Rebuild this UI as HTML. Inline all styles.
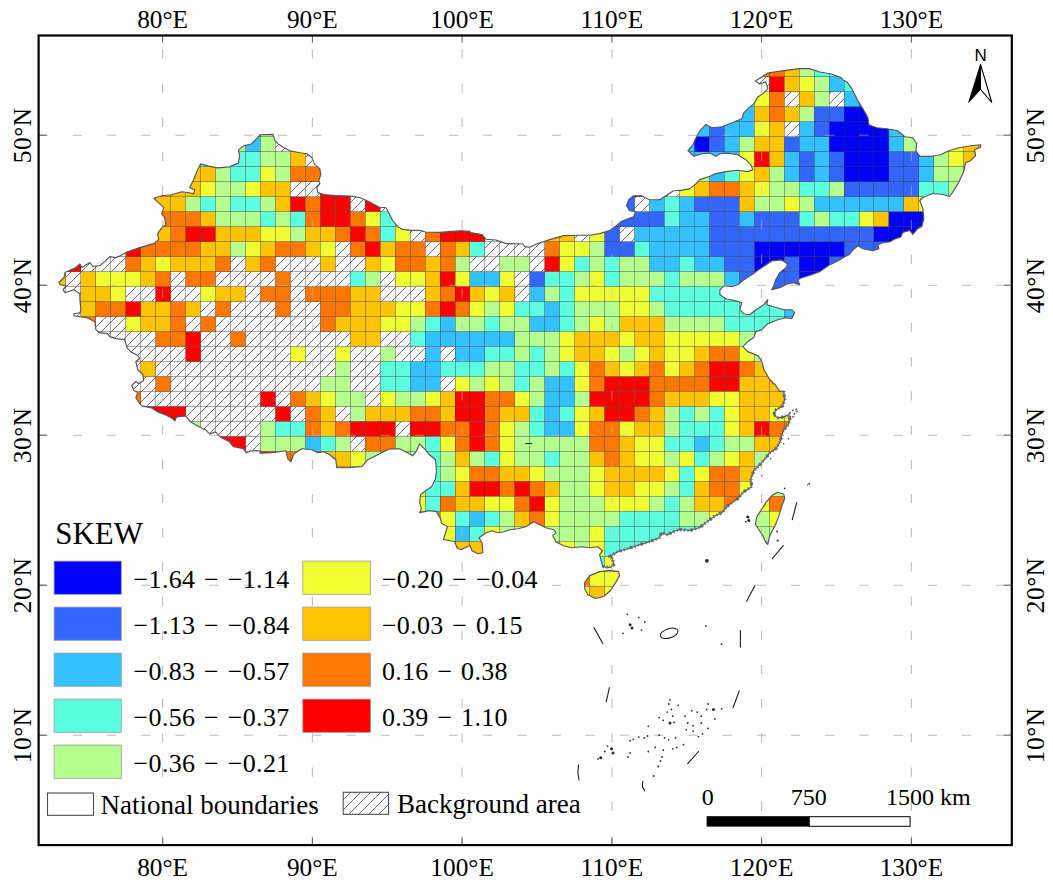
<!DOCTYPE html>
<html><head><meta charset="utf-8"><title>SKEW map</title>
<style>html,body{margin:0;padding:0;background:#fff}svg{display:block}text{font-family:'Liberation Serif','Times New Roman',serif;fill:#000}</style></head><body>
<svg width="1053" height="883" viewBox="0 0 1053 883">
<defs>
<pattern id="hp" patternUnits="userSpaceOnUse" width="10" height="10" x="3" y="0"><path d="M-1,11 L11,-1 M-1,1 L1,-1 M9,11 L11,9" stroke="#444" stroke-width="0.8" fill="none"/></pattern>
<clipPath id="cn"><path d="M59.0,282.5 L64.0,277.5 L65.0,272.5 L75.9,267.5 L79.9,263.9 L81.9,267.5 L89.9,262.5 L92.9,266.5 L99.9,265.5 L104.8,261.6 L109.8,256.6 L115.8,257.6 L120.8,255.6 L126.8,252.0 L139.7,247.6 L153.7,243.6 L158.7,239.6 L157.7,233.6 L161.7,227.7 L165.7,224.7 L164.7,217.7 L161.7,213.7 L163.7,207.7 L158.7,202.8 L153.7,198.2 L161.7,195.8 L171.7,194.8 L181.6,191.8 L189.6,192.8 L193.6,193.8 L194.6,189.8 L189.6,187.8 L193.6,179.8 L197.6,169.9 L200.6,163.9 L207.6,165.9 L217.5,167.9 L229.5,166.9 L238.5,162.9 L239.5,155.9 L238.5,149.9 L243.5,145.9 L251.4,144.0 L257.4,138.0 L260.0,135.0 L260.0,134.7 L273.0,134.4 L275.0,140.7 L277.9,143.7 L283.9,147.7 L289.9,150.7 L299.9,152.7 L306.9,153.7 L311.9,157.7 L314.8,164.6 L319.8,168.6 L320.8,174.6 L318.8,180.6 L319.8,183.6 L316.8,187.6 L317.8,192.6 L323.8,194.5 L335.8,195.5 L349.7,196.1 L359.7,197.5 L368.7,201.5 L379.7,207.5 L385.6,207.5 L387.6,210.5 L392.6,220.5 L397.6,226.4 L402.6,229.4 L411.6,230.4 L419.6,230.4 L425.5,232.0 L439.5,232.4 L451.5,231.4 L461.4,230.8 L470.0,231.4 L470.0,232.6 L482.0,234.6 L486.0,239.2 L495.9,240.0 L505.9,243.6 L522.9,244.0 L524.8,246.6 L529.8,247.2 L537.8,243.6 L549.8,239.6 L563.7,235.6 L577.7,235.2 L589.7,235.2 L599.6,233.6 L609.6,230.6 L617.6,224.7 L621.6,221.3 L633.5,216.7 L635.5,211.7 L629.6,210.7 L626.6,205.7 L628.6,199.7 L633.5,195.8 L641.5,195.8 L649.5,199.7 L659.5,199.7 L667.4,194.8 L673.4,190.8 L680.0,190.2 L680.0,190.6 L690.0,188.6 L696.0,183.6 L699.9,179.6 L709.9,176.2 L715.9,173.6 L725.9,171.6 L737.8,170.2 L747.8,171.6 L752.8,169.6 L750.8,164.6 L745.8,159.7 L737.8,154.7 L727.9,153.1 L719.9,153.7 L715.9,156.3 L709.9,153.1 L701.9,153.7 L694.0,156.3 L691.0,153.7 L688.0,150.7 L693.0,144.7 L696.0,137.7 L699.9,130.8 L705.9,124.4 L711.9,127.8 L721.9,126.8 L731.9,122.8 L741.8,118.8 L743.8,112.8 L748.8,107.8 L753.8,103.9 L757.8,96.9 L763.8,92.9 L767.8,88.9 L765.8,81.9 L759.8,83.9 L755.4,80.9 L761.8,76.9 L767.8,73.0 L783.7,70.6 L799.7,68.6 L809.6,68.6 L819.6,72.0 L831.6,74.0 L841.5,77.9 L843.0,79.9 L847.0,81.9 L852.0,88.9 L858.0,100.9 L862.9,108.8 L867.9,117.8 L868.9,124.8 L876.9,127.8 L886.9,128.8 L897.8,130.8 L904.8,136.7 L912.8,137.7 L916.8,143.7 L915.8,150.7 L919.8,156.3 L930.8,156.3 L940.7,154.7 L948.7,150.7 L958.7,147.7 L970.6,145.7 L980.6,144.7 L980.6,147.1 L974.6,149.7 L975.6,155.7 L970.6,160.7 L965.7,162.7 L963.7,171.6 L958.7,182.6 L953.7,190.6 L949.7,196.5 L942.7,194.5 L932.7,193.5 L922.8,197.5 L919.8,200.5 L922.8,208.5 L923.8,218.5 L921.8,226.4 L917.8,228.4 L912.8,234.4 L909.8,230.4 L902.8,232.4 L900.8,237.0 L900.8,236.9 L894.9,238.9 L889.9,241.8 L882.9,242.8 L877.9,244.8 L878.9,248.8 L872.9,250.8 L862.9,248.8 L858.0,245.8 L853.0,249.8 L849.0,254.8 L843.0,257.8 L839.6,259.9 L829.6,264.9 L819.6,271.8 L811.6,274.8 L801.7,277.8 L797.7,279.8 L799.7,284.8 L793.7,282.8 L787.7,283.8 L779.7,287.8 L771.7,289.8 L773.7,285.8 L775.7,279.8 L779.7,272.8 L785.7,267.9 L787.7,263.9 L781.7,259.9 L771.7,260.9 L765.8,264.9 L759.8,268.9 L751.8,274.8 L743.8,279.8 L737.8,284.8 L731.9,286.8 L723.9,285.8 L719.9,289.8 L719.9,294.8 L725.9,298.8 L735.8,300.7 L741.8,302.7 L739.8,309.7 L743.8,313.7 L749.8,314.7 L755.8,309.7 L763.8,304.7 L767.8,299.7 L766.8,304.7 L773.7,306.7 L783.7,309.7 L791.7,309.7 L794.7,312.7 L791.7,318.7 L785.7,317.7 L777.7,319.7 L767.8,323.7 L761.8,329.6 L755.8,331.6 L753.8,337.6 L747.8,341.6 L742.8,346.6 L747.8,351.6 L757.8,355.6 L761.8,361.5 L763.8,369.5 L769.7,379.5 L775.7,385.5 L779.7,391.4 L783.7,391.0 L784.7,399.0 L782.7,405.9 L775.7,409.9 L773.7,414.9 L777.7,417.9 L783.7,416.9 L787.7,414.9 L790.1,416.5 L789.3,420.9 L788.7,423.9 L783.7,429.9 L781.7,435.8 L779.7,442.8 L775.7,448.8 L769.7,452.8 L765.8,457.8 L759.8,464.7 L753.8,470.7 L750.8,478.7 L751.8,486.7 L743.8,491.7 L737.8,498.6 L727.9,505.6 L721.9,512.6 L713.9,516.6 L705.9,522.6 L699.9,527.5 L690.0,530.5 L680.0,529.5 L680.0,529.7 L675.4,530.7 L667.4,534.7 L661.5,532.7 L659.5,537.7 L649.5,541.7 L639.5,544.7 L627.6,548.7 L617.6,551.7 L609.6,556.6 L612.6,558.6 L613.6,564.6 L609.6,567.6 L602.6,566.6 L599.6,554.6 L602.6,550.7 L597.6,546.7 L589.7,547.7 L581.7,546.7 L571.7,547.7 L563.7,545.7 L555.8,541.7 L552.8,535.7 L555.8,532.7 L553.8,529.7 L545.8,527.7 L539.8,524.7 L533.8,521.8 L525.8,526.7 L517.9,528.7 L509.9,529.7 L503.9,531.7 L497.9,532.7 L491.9,530.7 L486.0,532.7 L479.0,537.7 L482.0,542.7 L483.0,552.7 L478.0,553.7 L472.0,550.7 L470.0,545.7 L470.0,545.5 L461.4,549.5 L457.4,548.5 L454.5,541.5 L443.5,539.5 L447.5,526.5 L441.5,523.5 L440.5,518.6 L436.5,511.6 L429.5,510.6 L419.6,512.6 L421.5,508.6 L419.6,502.6 L420.6,494.6 L425.5,490.7 L431.5,486.7 L435.5,478.7 L436.5,470.7 L435.5,459.8 L429.5,454.8 L425.5,449.8 L419.6,443.8 L416.6,450.8 L412.6,455.8 L407.6,452.8 L399.6,448.8 L389.6,448.8 L379.7,453.8 L367.7,459.8 L361.7,466.7 L347.8,467.7 L336.8,467.7 L335.8,459.8 L329.8,454.8 L323.8,451.8 L317.8,452.8 L311.9,449.8 L301.9,448.8 L293.9,453.8 L290.9,461.8 L287.9,458.8 L285.9,450.8 L272.0,452.8 L260.0,453.2 L260.0,450.8 L251.4,450.8 L246.4,452.8 L243.5,448.8 L233.5,446.8 L229.5,441.8 L221.5,437.8 L215.5,431.9 L209.6,433.9 L205.6,429.9 L197.6,425.9 L189.6,420.9 L185.6,415.9 L176.6,416.9 L174.7,420.9 L171.7,417.9 L165.7,414.9 L157.7,411.9 L151.7,407.9 L141.7,405.9 L137.8,401.0 L135.8,397.4 L137.8,392.4 L133.8,390.4 L131.8,385.5 L135.8,381.5 L138.8,383.5 L143.7,380.5 L142.7,374.5 L137.8,369.5 L135.8,361.5 L139.7,358.5 L137.8,355.6 L131.8,352.6 L126.8,347.6 L124.8,339.6 L115.8,338.6 L109.8,336.6 L107.8,333.6 L98.9,332.6 L95.9,329.6 L94.9,321.7 L86.9,317.7 L79.9,316.7 L73.9,315.7 L73.9,313.7 L79.9,312.7 L80.9,309.7 L79.9,299.7 L79.9,293.8 L73.9,289.8 L65.0,292.8 L63.0,289.8 L66.0,285.8 L60.0,284.8 L59.0,281.8Z M584.7,582.6 L589.7,575.6 L599.6,571.6 L609.6,570.2 L618.6,571.6 L619.6,575.6 L615.6,582.6 L610.6,590.5 L603.6,596.5 L595.6,598.5 L587.7,594.5 L584.7,588.5Z M777.7,492.3 L783.7,494.2 L784.7,498.6 L781.7,506.6 L778.7,516.6 L774.7,526.5 L769.7,535.5 L767.8,544.5 L765.8,542.5 L762.8,535.5 L758.8,529.5 L755.4,524.5 L756.8,516.6 L760.8,510.6 L765.8,502.6 L771.7,495.6Z"/></clipPath>
</defs>
<rect width="1053" height="883" fill="#fff"/>
<g stroke="#bcbcbc" stroke-width="1.1" stroke-dasharray="9.2 25" fill="none"><line x1="162.6" y1="845.1" x2="162.6" y2="35.5"/><line x1="312.4" y1="845.1" x2="312.4" y2="35.5"/><line x1="462.1" y1="845.1" x2="462.1" y2="35.5"/><line x1="611.9" y1="845.1" x2="611.9" y2="35.5"/><line x1="761.6" y1="845.1" x2="761.6" y2="35.5"/><line x1="911.4" y1="845.1" x2="911.4" y2="35.5"/><line x1="38.6" y1="735.2" x2="1011.9" y2="735.2"/><line x1="38.6" y1="585.2" x2="1011.9" y2="585.2"/><line x1="38.6" y1="435.2" x2="1011.9" y2="435.2"/><line x1="38.6" y1="285.2" x2="1011.9" y2="285.2"/><line x1="38.6" y1="135.2" x2="1011.9" y2="135.2"/></g>
<g stroke="#555" stroke-width="1"><line x1="162.6" y1="35.5" x2="162.6" y2="42.5"/><line x1="162.6" y1="845.1" x2="162.6" y2="838.1"/><line x1="312.4" y1="35.5" x2="312.4" y2="42.5"/><line x1="312.4" y1="845.1" x2="312.4" y2="838.1"/><line x1="462.1" y1="35.5" x2="462.1" y2="42.5"/><line x1="462.1" y1="845.1" x2="462.1" y2="838.1"/><line x1="611.9" y1="35.5" x2="611.9" y2="42.5"/><line x1="611.9" y1="845.1" x2="611.9" y2="838.1"/><line x1="761.6" y1="35.5" x2="761.6" y2="42.5"/><line x1="761.6" y1="845.1" x2="761.6" y2="838.1"/><line x1="911.4" y1="35.5" x2="911.4" y2="42.5"/><line x1="911.4" y1="845.1" x2="911.4" y2="838.1"/><line x1="38.6" y1="735.2" x2="46.6" y2="735.2"/><line x1="1011.9" y1="735.2" x2="1003.9" y2="735.2"/><line x1="38.6" y1="585.2" x2="46.6" y2="585.2"/><line x1="1011.9" y1="585.2" x2="1003.9" y2="585.2"/><line x1="38.6" y1="435.2" x2="46.6" y2="435.2"/><line x1="1011.9" y1="435.2" x2="1003.9" y2="435.2"/><line x1="38.6" y1="285.2" x2="46.6" y2="285.2"/><line x1="1011.9" y1="285.2" x2="1003.9" y2="285.2"/><line x1="38.6" y1="135.2" x2="46.6" y2="135.2"/><line x1="1011.9" y1="135.2" x2="1003.9" y2="135.2"/></g>
<g clip-path="url(#cn)">
<rect x="40" y="40" width="960" height="580" fill="#fff"/>
<rect x="754.3" y="62.0" width="15.06" height="15.08" fill="#ff7700"/>
<rect x="769.2" y="62.0" width="15.06" height="15.08" fill="#ff7700"/>
<rect x="784.2" y="62.0" width="15.06" height="15.08" fill="#ffc400"/>
<rect x="799.1" y="62.0" width="15.06" height="15.08" fill="#b6ff8f"/>
<rect x="814.1" y="62.0" width="15.06" height="15.08" fill="#5cffde"/>
<rect x="829.1" y="62.0" width="15.06" height="15.08" fill="#5cffde"/>
<rect x="754.3" y="77.0" width="14.96" height="14.98" fill="url(#hp)"/>
<rect x="769.2" y="77.0" width="15.06" height="15.08" fill="#ff0000"/>
<rect x="784.2" y="77.0" width="15.06" height="15.08" fill="#ffc400"/>
<rect x="799.1" y="77.0" width="15.06" height="15.08" fill="#f0ff33"/>
<rect x="814.1" y="77.0" width="15.06" height="15.08" fill="#b6ff8f"/>
<rect x="829.1" y="77.0" width="15.06" height="15.08" fill="#33c2ff"/>
<rect x="844.0" y="77.0" width="15.06" height="15.08" fill="#5cffde"/>
<rect x="739.3" y="92.0" width="15.06" height="15.08" fill="#5cffde"/>
<rect x="754.3" y="92.0" width="15.06" height="15.08" fill="#f0ff33"/>
<rect x="769.2" y="92.0" width="15.06" height="15.08" fill="#ff7700"/>
<rect x="784.2" y="92.0" width="14.96" height="14.98" fill="url(#hp)"/>
<rect x="799.1" y="92.0" width="15.06" height="15.08" fill="#ffc400"/>
<rect x="814.1" y="92.0" width="15.06" height="15.08" fill="#b6ff8f"/>
<rect x="829.1" y="92.0" width="14.96" height="14.98" fill="url(#hp)"/>
<rect x="844.0" y="92.0" width="15.06" height="15.08" fill="#33c2ff"/>
<rect x="859.0" y="92.0" width="15.06" height="15.08" fill="#33c2ff"/>
<rect x="724.3" y="106.9" width="15.06" height="15.08" fill="#33c2ff"/>
<rect x="739.3" y="106.9" width="15.06" height="15.08" fill="#33c2ff"/>
<rect x="754.3" y="106.9" width="15.06" height="15.08" fill="#ffc400"/>
<rect x="769.2" y="106.9" width="15.06" height="15.08" fill="#ff7700"/>
<rect x="784.2" y="106.9" width="15.06" height="15.08" fill="#ffc400"/>
<rect x="799.1" y="106.9" width="15.06" height="15.08" fill="#b6ff8f"/>
<rect x="814.1" y="106.9" width="15.06" height="15.08" fill="#3366ff"/>
<rect x="829.1" y="106.9" width="15.06" height="15.08" fill="#3366ff"/>
<rect x="844.0" y="106.9" width="15.06" height="15.08" fill="#0000ff"/>
<rect x="859.0" y="106.9" width="15.06" height="15.08" fill="#0000ff"/>
<rect x="245.5" y="121.9" width="15.06" height="15.08" fill="#33c2ff"/>
<rect x="260.5" y="121.9" width="15.06" height="15.08" fill="#b6ff8f"/>
<rect x="679.4" y="121.9" width="15.06" height="15.08" fill="#33c2ff"/>
<rect x="694.4" y="121.9" width="15.06" height="15.08" fill="#33c2ff"/>
<rect x="709.4" y="121.9" width="15.06" height="15.08" fill="#3366ff"/>
<rect x="724.3" y="121.9" width="15.06" height="15.08" fill="#33c2ff"/>
<rect x="739.3" y="121.9" width="15.06" height="15.08" fill="#33c2ff"/>
<rect x="754.3" y="121.9" width="15.06" height="15.08" fill="#f0ff33"/>
<rect x="769.2" y="121.9" width="15.06" height="15.08" fill="#ffc400"/>
<rect x="784.2" y="121.9" width="14.96" height="14.98" fill="url(#hp)"/>
<rect x="799.1" y="121.9" width="15.06" height="15.08" fill="#33c2ff"/>
<rect x="814.1" y="121.9" width="15.06" height="15.08" fill="#3366ff"/>
<rect x="829.1" y="121.9" width="15.06" height="15.08" fill="#0000ff"/>
<rect x="844.0" y="121.9" width="15.06" height="15.08" fill="#0000ff"/>
<rect x="859.0" y="121.9" width="15.06" height="15.08" fill="#0000ff"/>
<rect x="874.0" y="121.9" width="15.06" height="15.08" fill="#0000ff"/>
<rect x="888.9" y="121.9" width="15.06" height="15.08" fill="#33c2ff"/>
<rect x="230.6" y="136.9" width="15.06" height="15.08" fill="#b6ff8f"/>
<rect x="245.5" y="136.9" width="15.06" height="15.08" fill="#33c2ff"/>
<rect x="260.5" y="136.9" width="15.06" height="15.08" fill="#b6ff8f"/>
<rect x="275.4" y="136.9" width="14.96" height="14.98" fill="url(#hp)"/>
<rect x="290.4" y="136.9" width="14.96" height="14.98" fill="url(#hp)"/>
<rect x="679.4" y="136.9" width="15.06" height="15.08" fill="#33c2ff"/>
<rect x="694.4" y="136.9" width="15.06" height="15.08" fill="#0000ff"/>
<rect x="709.4" y="136.9" width="15.06" height="15.08" fill="#3366ff"/>
<rect x="724.3" y="136.9" width="15.06" height="15.08" fill="#33c2ff"/>
<rect x="739.3" y="136.9" width="15.06" height="15.08" fill="#b6ff8f"/>
<rect x="754.3" y="136.9" width="15.06" height="15.08" fill="#ffc400"/>
<rect x="769.2" y="136.9" width="15.06" height="15.08" fill="#ffc400"/>
<rect x="784.2" y="136.9" width="15.06" height="15.08" fill="#3366ff"/>
<rect x="799.1" y="136.9" width="15.06" height="15.08" fill="#33c2ff"/>
<rect x="814.1" y="136.9" width="15.06" height="15.08" fill="#33c2ff"/>
<rect x="829.1" y="136.9" width="15.06" height="15.08" fill="#0000ff"/>
<rect x="844.0" y="136.9" width="15.06" height="15.08" fill="#0000ff"/>
<rect x="859.0" y="136.9" width="15.06" height="15.08" fill="#0000ff"/>
<rect x="874.0" y="136.9" width="15.06" height="15.08" fill="#0000ff"/>
<rect x="888.9" y="136.9" width="15.06" height="15.08" fill="#33c2ff"/>
<rect x="903.9" y="136.9" width="15.06" height="15.08" fill="#b6ff8f"/>
<rect x="933.8" y="136.9" width="15.06" height="15.08" fill="#b6ff8f"/>
<rect x="948.8" y="136.9" width="15.06" height="15.08" fill="#f0ff33"/>
<rect x="963.7" y="136.9" width="15.06" height="15.08" fill="#ffc400"/>
<rect x="978.7" y="136.9" width="15.06" height="15.08" fill="#ffc400"/>
<rect x="185.7" y="151.9" width="15.06" height="15.08" fill="#ffc400"/>
<rect x="200.6" y="151.9" width="15.06" height="15.08" fill="#5cffde"/>
<rect x="215.6" y="151.9" width="15.06" height="15.08" fill="#5cffde"/>
<rect x="230.6" y="151.9" width="15.06" height="15.08" fill="#5cffde"/>
<rect x="245.5" y="151.9" width="15.06" height="15.08" fill="#5cffde"/>
<rect x="260.5" y="151.9" width="15.06" height="15.08" fill="#b6ff8f"/>
<rect x="275.4" y="151.9" width="15.06" height="15.08" fill="#b6ff8f"/>
<rect x="290.4" y="151.9" width="15.06" height="15.08" fill="#ffc400"/>
<rect x="305.4" y="151.9" width="14.96" height="14.98" fill="url(#hp)"/>
<rect x="679.4" y="151.9" width="15.06" height="15.08" fill="#33c2ff"/>
<rect x="694.4" y="151.9" width="15.06" height="15.08" fill="#33c2ff"/>
<rect x="709.4" y="151.9" width="15.06" height="15.08" fill="#33c2ff"/>
<rect x="724.3" y="151.9" width="15.06" height="15.08" fill="#33c2ff"/>
<rect x="739.3" y="151.9" width="15.06" height="15.08" fill="#f0ff33"/>
<rect x="754.3" y="151.9" width="15.06" height="15.08" fill="#ff0000"/>
<rect x="769.2" y="151.9" width="15.06" height="15.08" fill="#ffc400"/>
<rect x="784.2" y="151.9" width="15.06" height="15.08" fill="#33c2ff"/>
<rect x="799.1" y="151.9" width="15.06" height="15.08" fill="#3366ff"/>
<rect x="814.1" y="151.9" width="15.06" height="15.08" fill="#33c2ff"/>
<rect x="829.1" y="151.9" width="15.06" height="15.08" fill="#3366ff"/>
<rect x="844.0" y="151.9" width="15.06" height="15.08" fill="#0000ff"/>
<rect x="859.0" y="151.9" width="15.06" height="15.08" fill="#0000ff"/>
<rect x="874.0" y="151.9" width="15.06" height="15.08" fill="#0000ff"/>
<rect x="888.9" y="151.9" width="15.06" height="15.08" fill="#3366ff"/>
<rect x="903.9" y="151.9" width="15.06" height="15.08" fill="#3366ff"/>
<rect x="918.9" y="151.9" width="15.06" height="15.08" fill="#33c2ff"/>
<rect x="933.8" y="151.9" width="15.06" height="15.08" fill="#b6ff8f"/>
<rect x="948.8" y="151.9" width="15.06" height="15.08" fill="#f0ff33"/>
<rect x="963.7" y="151.9" width="15.06" height="15.08" fill="#ffc400"/>
<rect x="185.7" y="166.9" width="15.06" height="15.08" fill="#ffc400"/>
<rect x="200.6" y="166.9" width="15.06" height="15.08" fill="#ffc400"/>
<rect x="215.6" y="166.9" width="15.06" height="15.08" fill="#b6ff8f"/>
<rect x="230.6" y="166.9" width="15.06" height="15.08" fill="#5cffde"/>
<rect x="245.5" y="166.9" width="15.06" height="15.08" fill="#5cffde"/>
<rect x="260.5" y="166.9" width="15.06" height="15.08" fill="#f0ff33"/>
<rect x="275.4" y="166.9" width="15.06" height="15.08" fill="#b6ff8f"/>
<rect x="290.4" y="166.9" width="15.06" height="15.08" fill="#ff7700"/>
<rect x="305.4" y="166.9" width="15.06" height="15.08" fill="#ff7700"/>
<rect x="694.4" y="166.9" width="15.06" height="15.08" fill="#b6ff8f"/>
<rect x="709.4" y="166.9" width="15.06" height="15.08" fill="#33c2ff"/>
<rect x="724.3" y="166.9" width="15.06" height="15.08" fill="#5cffde"/>
<rect x="739.3" y="166.9" width="15.06" height="15.08" fill="#f0ff33"/>
<rect x="754.3" y="166.9" width="15.06" height="15.08" fill="#ffc400"/>
<rect x="769.2" y="166.9" width="15.06" height="15.08" fill="#b6ff8f"/>
<rect x="784.2" y="166.9" width="15.06" height="15.08" fill="#33c2ff"/>
<rect x="799.1" y="166.9" width="15.06" height="15.08" fill="#3366ff"/>
<rect x="814.1" y="166.9" width="15.06" height="15.08" fill="#33c2ff"/>
<rect x="829.1" y="166.9" width="15.06" height="15.08" fill="#3366ff"/>
<rect x="844.0" y="166.9" width="15.06" height="15.08" fill="#0000ff"/>
<rect x="859.0" y="166.9" width="15.06" height="15.08" fill="#0000ff"/>
<rect x="874.0" y="166.9" width="15.06" height="15.08" fill="#0000ff"/>
<rect x="888.9" y="166.9" width="15.06" height="15.08" fill="#3366ff"/>
<rect x="903.9" y="166.9" width="15.06" height="15.08" fill="#3366ff"/>
<rect x="918.9" y="166.9" width="15.06" height="15.08" fill="#33c2ff"/>
<rect x="933.8" y="166.9" width="15.06" height="15.08" fill="#b6ff8f"/>
<rect x="948.8" y="166.9" width="15.06" height="15.08" fill="#b6ff8f"/>
<rect x="963.7" y="166.9" width="15.06" height="15.08" fill="#ffc400"/>
<rect x="155.7" y="181.8" width="15.06" height="15.08" fill="#ffc400"/>
<rect x="170.7" y="181.8" width="15.06" height="15.08" fill="#ffc400"/>
<rect x="185.7" y="181.8" width="15.06" height="15.08" fill="#ffc400"/>
<rect x="200.6" y="181.8" width="15.06" height="15.08" fill="#f0ff33"/>
<rect x="215.6" y="181.8" width="15.06" height="15.08" fill="#b6ff8f"/>
<rect x="230.6" y="181.8" width="15.06" height="15.08" fill="#b6ff8f"/>
<rect x="245.5" y="181.8" width="15.06" height="15.08" fill="#f0ff33"/>
<rect x="260.5" y="181.8" width="15.06" height="15.08" fill="#ffc400"/>
<rect x="275.4" y="181.8" width="15.06" height="15.08" fill="#ffc400"/>
<rect x="290.4" y="181.8" width="14.96" height="14.98" fill="url(#hp)"/>
<rect x="305.4" y="181.8" width="14.96" height="14.98" fill="url(#hp)"/>
<rect x="320.3" y="181.8" width="15.06" height="15.08" fill="#ff0000"/>
<rect x="335.3" y="181.8" width="15.06" height="15.08" fill="#ff0000"/>
<rect x="350.3" y="181.8" width="14.96" height="14.98" fill="url(#hp)"/>
<rect x="619.6" y="181.8" width="15.06" height="15.08" fill="#3366ff"/>
<rect x="634.6" y="181.8" width="15.06" height="15.08" fill="#ff0000"/>
<rect x="664.5" y="181.8" width="14.96" height="14.98" fill="url(#hp)"/>
<rect x="679.4" y="181.8" width="15.06" height="15.08" fill="#f0ff33"/>
<rect x="694.4" y="181.8" width="15.06" height="15.08" fill="#ffc400"/>
<rect x="709.4" y="181.8" width="15.06" height="15.08" fill="#ff7700"/>
<rect x="724.3" y="181.8" width="15.06" height="15.08" fill="#ff7700"/>
<rect x="739.3" y="181.8" width="15.06" height="15.08" fill="#ffc400"/>
<rect x="754.3" y="181.8" width="15.06" height="15.08" fill="#f0ff33"/>
<rect x="769.2" y="181.8" width="15.06" height="15.08" fill="#b6ff8f"/>
<rect x="784.2" y="181.8" width="15.06" height="15.08" fill="#b6ff8f"/>
<rect x="799.1" y="181.8" width="15.06" height="15.08" fill="#5cffde"/>
<rect x="814.1" y="181.8" width="15.06" height="15.08" fill="#5cffde"/>
<rect x="829.1" y="181.8" width="15.06" height="15.08" fill="#b6ff8f"/>
<rect x="844.0" y="181.8" width="15.06" height="15.08" fill="#3366ff"/>
<rect x="859.0" y="181.8" width="15.06" height="15.08" fill="#3366ff"/>
<rect x="874.0" y="181.8" width="15.06" height="15.08" fill="#3366ff"/>
<rect x="888.9" y="181.8" width="15.06" height="15.08" fill="#3366ff"/>
<rect x="903.9" y="181.8" width="15.06" height="15.08" fill="#3366ff"/>
<rect x="918.9" y="181.8" width="15.06" height="15.08" fill="#5cffde"/>
<rect x="933.8" y="181.8" width="15.06" height="15.08" fill="#5cffde"/>
<rect x="948.8" y="181.8" width="15.06" height="15.08" fill="#b6ff8f"/>
<rect x="140.8" y="196.8" width="15.06" height="15.08" fill="#ffc400"/>
<rect x="155.7" y="196.8" width="15.06" height="15.08" fill="#ffc400"/>
<rect x="170.7" y="196.8" width="15.06" height="15.08" fill="#ffc400"/>
<rect x="185.7" y="196.8" width="15.06" height="15.08" fill="#b6ff8f"/>
<rect x="200.6" y="196.8" width="15.06" height="15.08" fill="#5cffde"/>
<rect x="215.6" y="196.8" width="15.06" height="15.08" fill="#b6ff8f"/>
<rect x="230.6" y="196.8" width="15.06" height="15.08" fill="#5cffde"/>
<rect x="245.5" y="196.8" width="15.06" height="15.08" fill="#5cffde"/>
<rect x="260.5" y="196.8" width="15.06" height="15.08" fill="#b6ff8f"/>
<rect x="275.4" y="196.8" width="15.06" height="15.08" fill="#ffc400"/>
<rect x="290.4" y="196.8" width="15.06" height="15.08" fill="#ff0000"/>
<rect x="305.4" y="196.8" width="15.06" height="15.08" fill="#ff7700"/>
<rect x="320.3" y="196.8" width="15.06" height="15.08" fill="#ff0000"/>
<rect x="335.3" y="196.8" width="15.06" height="15.08" fill="#ff0000"/>
<rect x="350.3" y="196.8" width="14.96" height="14.98" fill="url(#hp)"/>
<rect x="365.2" y="196.8" width="15.06" height="15.08" fill="#ff0000"/>
<rect x="380.2" y="196.8" width="14.96" height="14.98" fill="url(#hp)"/>
<rect x="619.6" y="196.8" width="15.06" height="15.08" fill="#3366ff"/>
<rect x="634.6" y="196.8" width="14.96" height="14.98" fill="url(#hp)"/>
<rect x="649.5" y="196.8" width="15.06" height="15.08" fill="#33c2ff"/>
<rect x="664.5" y="196.8" width="15.06" height="15.08" fill="#5cffde"/>
<rect x="679.4" y="196.8" width="15.06" height="15.08" fill="#33c2ff"/>
<rect x="694.4" y="196.8" width="15.06" height="15.08" fill="#3366ff"/>
<rect x="709.4" y="196.8" width="15.06" height="15.08" fill="#3366ff"/>
<rect x="724.3" y="196.8" width="15.06" height="15.08" fill="#3366ff"/>
<rect x="739.3" y="196.8" width="15.06" height="15.08" fill="#ffc400"/>
<rect x="754.3" y="196.8" width="15.06" height="15.08" fill="#b6ff8f"/>
<rect x="769.2" y="196.8" width="15.06" height="15.08" fill="#b6ff8f"/>
<rect x="784.2" y="196.8" width="15.06" height="15.08" fill="#f0ff33"/>
<rect x="799.1" y="196.8" width="15.06" height="15.08" fill="#b6ff8f"/>
<rect x="814.1" y="196.8" width="15.06" height="15.08" fill="#33c2ff"/>
<rect x="829.1" y="196.8" width="15.06" height="15.08" fill="#33c2ff"/>
<rect x="844.0" y="196.8" width="15.06" height="15.08" fill="#33c2ff"/>
<rect x="859.0" y="196.8" width="15.06" height="15.08" fill="#33c2ff"/>
<rect x="874.0" y="196.8" width="15.06" height="15.08" fill="#33c2ff"/>
<rect x="888.9" y="196.8" width="15.06" height="15.08" fill="#33c2ff"/>
<rect x="903.9" y="196.8" width="15.06" height="15.08" fill="#ffc400"/>
<rect x="918.9" y="196.8" width="15.06" height="15.08" fill="#f0ff33"/>
<rect x="155.7" y="211.8" width="15.06" height="15.08" fill="#ff7700"/>
<rect x="170.7" y="211.8" width="15.06" height="15.08" fill="#ff7700"/>
<rect x="185.7" y="211.8" width="15.06" height="15.08" fill="#ff7700"/>
<rect x="200.6" y="211.8" width="15.06" height="15.08" fill="#ffc400"/>
<rect x="215.6" y="211.8" width="15.06" height="15.08" fill="#b6ff8f"/>
<rect x="230.6" y="211.8" width="15.06" height="15.08" fill="#b6ff8f"/>
<rect x="245.5" y="211.8" width="15.06" height="15.08" fill="#b6ff8f"/>
<rect x="260.5" y="211.8" width="15.06" height="15.08" fill="#5cffde"/>
<rect x="275.4" y="211.8" width="15.06" height="15.08" fill="#b6ff8f"/>
<rect x="290.4" y="211.8" width="15.06" height="15.08" fill="#5cffde"/>
<rect x="305.4" y="211.8" width="15.06" height="15.08" fill="#ff7700"/>
<rect x="320.3" y="211.8" width="15.06" height="15.08" fill="#ff0000"/>
<rect x="335.3" y="211.8" width="15.06" height="15.08" fill="#ff0000"/>
<rect x="350.3" y="211.8" width="15.06" height="15.08" fill="#ff7700"/>
<rect x="365.2" y="211.8" width="15.06" height="15.08" fill="#f0ff33"/>
<rect x="380.2" y="211.8" width="15.06" height="15.08" fill="#5cffde"/>
<rect x="395.1" y="211.8" width="15.06" height="15.08" fill="#5cffde"/>
<rect x="604.6" y="211.8" width="15.06" height="15.08" fill="#3366ff"/>
<rect x="619.6" y="211.8" width="15.06" height="15.08" fill="#3366ff"/>
<rect x="634.6" y="211.8" width="15.06" height="15.08" fill="#3366ff"/>
<rect x="649.5" y="211.8" width="15.06" height="15.08" fill="#3366ff"/>
<rect x="664.5" y="211.8" width="15.06" height="15.08" fill="#5cffde"/>
<rect x="679.4" y="211.8" width="15.06" height="15.08" fill="#33c2ff"/>
<rect x="694.4" y="211.8" width="15.06" height="15.08" fill="#33c2ff"/>
<rect x="709.4" y="211.8" width="15.06" height="15.08" fill="#3366ff"/>
<rect x="724.3" y="211.8" width="15.06" height="15.08" fill="#3366ff"/>
<rect x="739.3" y="211.8" width="15.06" height="15.08" fill="#33c2ff"/>
<rect x="754.3" y="211.8" width="15.06" height="15.08" fill="#3366ff"/>
<rect x="769.2" y="211.8" width="15.06" height="15.08" fill="#3366ff"/>
<rect x="784.2" y="211.8" width="15.06" height="15.08" fill="#3366ff"/>
<rect x="799.1" y="211.8" width="15.06" height="15.08" fill="#5cffde"/>
<rect x="814.1" y="211.8" width="15.06" height="15.08" fill="#b6ff8f"/>
<rect x="829.1" y="211.8" width="15.06" height="15.08" fill="#5cffde"/>
<rect x="844.0" y="211.8" width="15.06" height="15.08" fill="#5cffde"/>
<rect x="859.0" y="211.8" width="15.06" height="15.08" fill="#f0ff33"/>
<rect x="874.0" y="211.8" width="15.06" height="15.08" fill="#ffc400"/>
<rect x="888.9" y="211.8" width="15.06" height="15.08" fill="#0000ff"/>
<rect x="903.9" y="211.8" width="15.06" height="15.08" fill="#0000ff"/>
<rect x="918.9" y="211.8" width="15.06" height="15.08" fill="#0000ff"/>
<rect x="155.7" y="226.8" width="15.06" height="15.08" fill="#ffc400"/>
<rect x="170.7" y="226.8" width="15.06" height="15.08" fill="#ff7700"/>
<rect x="185.7" y="226.8" width="15.06" height="15.08" fill="#ff0000"/>
<rect x="200.6" y="226.8" width="15.06" height="15.08" fill="#ff0000"/>
<rect x="215.6" y="226.8" width="15.06" height="15.08" fill="#ffc400"/>
<rect x="230.6" y="226.8" width="15.06" height="15.08" fill="#ffc400"/>
<rect x="245.5" y="226.8" width="15.06" height="15.08" fill="#ffc400"/>
<rect x="260.5" y="226.8" width="15.06" height="15.08" fill="#f0ff33"/>
<rect x="275.4" y="226.8" width="15.06" height="15.08" fill="#f0ff33"/>
<rect x="290.4" y="226.8" width="15.06" height="15.08" fill="#b6ff8f"/>
<rect x="305.4" y="226.8" width="15.06" height="15.08" fill="#ffc400"/>
<rect x="320.3" y="226.8" width="15.06" height="15.08" fill="#ffc400"/>
<rect x="335.3" y="226.8" width="15.06" height="15.08" fill="#ff7700"/>
<rect x="350.3" y="226.8" width="15.06" height="15.08" fill="#ff0000"/>
<rect x="365.2" y="226.8" width="15.06" height="15.08" fill="#ff7700"/>
<rect x="380.2" y="226.8" width="15.06" height="15.08" fill="#5cffde"/>
<rect x="395.1" y="226.8" width="15.06" height="15.08" fill="#f0ff33"/>
<rect x="410.1" y="226.8" width="14.96" height="14.98" fill="url(#hp)"/>
<rect x="425.1" y="226.8" width="15.06" height="15.08" fill="#ff7700"/>
<rect x="440.0" y="226.8" width="15.06" height="15.08" fill="#ff0000"/>
<rect x="455.0" y="226.8" width="15.06" height="15.08" fill="#ff0000"/>
<rect x="470.0" y="226.8" width="15.06" height="15.08" fill="#ff0000"/>
<rect x="484.9" y="226.8" width="14.96" height="14.98" fill="url(#hp)"/>
<rect x="499.9" y="226.8" width="14.96" height="14.98" fill="url(#hp)"/>
<rect x="514.9" y="226.8" width="14.96" height="14.98" fill="url(#hp)"/>
<rect x="529.8" y="226.8" width="14.96" height="14.98" fill="url(#hp)"/>
<rect x="544.8" y="226.8" width="15.06" height="15.08" fill="#ffc400"/>
<rect x="559.7" y="226.8" width="15.06" height="15.08" fill="#ffc400"/>
<rect x="574.7" y="226.8" width="14.96" height="14.98" fill="url(#hp)"/>
<rect x="589.7" y="226.8" width="15.06" height="15.08" fill="#f0ff33"/>
<rect x="604.6" y="226.8" width="15.06" height="15.08" fill="#3366ff"/>
<rect x="619.6" y="226.8" width="14.96" height="14.98" fill="url(#hp)"/>
<rect x="634.6" y="226.8" width="15.06" height="15.08" fill="#33c2ff"/>
<rect x="649.5" y="226.8" width="15.06" height="15.08" fill="#33c2ff"/>
<rect x="664.5" y="226.8" width="15.06" height="15.08" fill="#33c2ff"/>
<rect x="679.4" y="226.8" width="15.06" height="15.08" fill="#33c2ff"/>
<rect x="694.4" y="226.8" width="15.06" height="15.08" fill="#33c2ff"/>
<rect x="709.4" y="226.8" width="15.06" height="15.08" fill="#3366ff"/>
<rect x="724.3" y="226.8" width="15.06" height="15.08" fill="#3366ff"/>
<rect x="739.3" y="226.8" width="15.06" height="15.08" fill="#3366ff"/>
<rect x="754.3" y="226.8" width="15.06" height="15.08" fill="#3366ff"/>
<rect x="769.2" y="226.8" width="15.06" height="15.08" fill="#3366ff"/>
<rect x="784.2" y="226.8" width="15.06" height="15.08" fill="#3366ff"/>
<rect x="799.1" y="226.8" width="15.06" height="15.08" fill="#3366ff"/>
<rect x="814.1" y="226.8" width="15.06" height="15.08" fill="#3366ff"/>
<rect x="829.1" y="226.8" width="15.06" height="15.08" fill="#3366ff"/>
<rect x="844.0" y="226.8" width="15.06" height="15.08" fill="#3366ff"/>
<rect x="859.0" y="226.8" width="15.06" height="15.08" fill="#3366ff"/>
<rect x="874.0" y="226.8" width="15.06" height="15.08" fill="#0000ff"/>
<rect x="888.9" y="226.8" width="15.06" height="15.08" fill="#0000ff"/>
<rect x="903.9" y="226.8" width="15.06" height="15.08" fill="#0000ff"/>
<rect x="918.9" y="226.8" width="15.06" height="15.08" fill="#0000ff"/>
<rect x="110.9" y="241.8" width="14.96" height="14.98" fill="url(#hp)"/>
<rect x="125.8" y="241.8" width="15.06" height="15.08" fill="#ff0000"/>
<rect x="140.8" y="241.8" width="15.06" height="15.08" fill="#ff7700"/>
<rect x="155.7" y="241.8" width="15.06" height="15.08" fill="#ff7700"/>
<rect x="170.7" y="241.8" width="15.06" height="15.08" fill="#ff7700"/>
<rect x="185.7" y="241.8" width="15.06" height="15.08" fill="#ff7700"/>
<rect x="200.6" y="241.8" width="15.06" height="15.08" fill="#ffc400"/>
<rect x="215.6" y="241.8" width="15.06" height="15.08" fill="#ffc400"/>
<rect x="230.6" y="241.8" width="15.06" height="15.08" fill="#b6ff8f"/>
<rect x="245.5" y="241.8" width="15.06" height="15.08" fill="#f0ff33"/>
<rect x="260.5" y="241.8" width="15.06" height="15.08" fill="#ffc400"/>
<rect x="275.4" y="241.8" width="15.06" height="15.08" fill="#ff7700"/>
<rect x="290.4" y="241.8" width="15.06" height="15.08" fill="#ff7700"/>
<rect x="305.4" y="241.8" width="15.06" height="15.08" fill="#ffc400"/>
<rect x="320.3" y="241.8" width="15.06" height="15.08" fill="#f0ff33"/>
<rect x="335.3" y="241.8" width="14.96" height="14.98" fill="url(#hp)"/>
<rect x="350.3" y="241.8" width="15.06" height="15.08" fill="#ff7700"/>
<rect x="365.2" y="241.8" width="15.06" height="15.08" fill="#ff0000"/>
<rect x="380.2" y="241.8" width="15.06" height="15.08" fill="#ffc400"/>
<rect x="395.1" y="241.8" width="15.06" height="15.08" fill="#ff7700"/>
<rect x="410.1" y="241.8" width="15.06" height="15.08" fill="#ff7700"/>
<rect x="425.1" y="241.8" width="14.96" height="14.98" fill="url(#hp)"/>
<rect x="440.0" y="241.8" width="15.06" height="15.08" fill="#ff7700"/>
<rect x="455.0" y="241.8" width="15.06" height="15.08" fill="#ffc400"/>
<rect x="470.0" y="241.8" width="15.06" height="15.08" fill="#5cffde"/>
<rect x="484.9" y="241.8" width="14.96" height="14.98" fill="url(#hp)"/>
<rect x="499.9" y="241.8" width="14.96" height="14.98" fill="url(#hp)"/>
<rect x="514.9" y="241.8" width="14.96" height="14.98" fill="url(#hp)"/>
<rect x="529.8" y="241.8" width="14.96" height="14.98" fill="url(#hp)"/>
<rect x="544.8" y="241.8" width="15.06" height="15.08" fill="#ff7700"/>
<rect x="559.7" y="241.8" width="15.06" height="15.08" fill="#f0ff33"/>
<rect x="574.7" y="241.8" width="15.06" height="15.08" fill="#f0ff33"/>
<rect x="589.7" y="241.8" width="15.06" height="15.08" fill="#b6ff8f"/>
<rect x="604.6" y="241.8" width="15.06" height="15.08" fill="#3366ff"/>
<rect x="619.6" y="241.8" width="15.06" height="15.08" fill="#3366ff"/>
<rect x="634.6" y="241.8" width="15.06" height="15.08" fill="#5cffde"/>
<rect x="649.5" y="241.8" width="15.06" height="15.08" fill="#33c2ff"/>
<rect x="664.5" y="241.8" width="15.06" height="15.08" fill="#33c2ff"/>
<rect x="679.4" y="241.8" width="15.06" height="15.08" fill="#33c2ff"/>
<rect x="694.4" y="241.8" width="15.06" height="15.08" fill="#33c2ff"/>
<rect x="709.4" y="241.8" width="15.06" height="15.08" fill="#3366ff"/>
<rect x="724.3" y="241.8" width="15.06" height="15.08" fill="#3366ff"/>
<rect x="739.3" y="241.8" width="15.06" height="15.08" fill="#3366ff"/>
<rect x="754.3" y="241.8" width="15.06" height="15.08" fill="#0000ff"/>
<rect x="769.2" y="241.8" width="15.06" height="15.08" fill="#0000ff"/>
<rect x="784.2" y="241.8" width="15.06" height="15.08" fill="#0000ff"/>
<rect x="799.1" y="241.8" width="15.06" height="15.08" fill="#0000ff"/>
<rect x="814.1" y="241.8" width="15.06" height="15.08" fill="#0000ff"/>
<rect x="829.1" y="241.8" width="15.06" height="15.08" fill="#0000ff"/>
<rect x="844.0" y="241.8" width="15.06" height="15.08" fill="#3366ff"/>
<rect x="859.0" y="241.8" width="15.06" height="15.08" fill="#3366ff"/>
<rect x="874.0" y="241.8" width="15.06" height="15.08" fill="#3366ff"/>
<rect x="66.0" y="256.7" width="15.06" height="15.08" fill="#ff0000"/>
<rect x="80.9" y="256.7" width="14.96" height="14.98" fill="url(#hp)"/>
<rect x="95.9" y="256.7" width="14.96" height="14.98" fill="url(#hp)"/>
<rect x="110.9" y="256.7" width="14.96" height="14.98" fill="url(#hp)"/>
<rect x="125.8" y="256.7" width="15.06" height="15.08" fill="#ff7700"/>
<rect x="140.8" y="256.7" width="15.06" height="15.08" fill="#ffc400"/>
<rect x="155.7" y="256.7" width="15.06" height="15.08" fill="#f0ff33"/>
<rect x="170.7" y="256.7" width="15.06" height="15.08" fill="#ffc400"/>
<rect x="185.7" y="256.7" width="15.06" height="15.08" fill="#ffc400"/>
<rect x="200.6" y="256.7" width="15.06" height="15.08" fill="#ffc400"/>
<rect x="215.6" y="256.7" width="15.06" height="15.08" fill="#ff7700"/>
<rect x="230.6" y="256.7" width="14.96" height="14.98" fill="url(#hp)"/>
<rect x="245.5" y="256.7" width="15.06" height="15.08" fill="#ffc400"/>
<rect x="260.5" y="256.7" width="15.06" height="15.08" fill="#ff7700"/>
<rect x="275.4" y="256.7" width="14.96" height="14.98" fill="url(#hp)"/>
<rect x="290.4" y="256.7" width="14.96" height="14.98" fill="url(#hp)"/>
<rect x="305.4" y="256.7" width="14.96" height="14.98" fill="url(#hp)"/>
<rect x="320.3" y="256.7" width="15.06" height="15.08" fill="#ffc400"/>
<rect x="335.3" y="256.7" width="14.96" height="14.98" fill="url(#hp)"/>
<rect x="350.3" y="256.7" width="14.96" height="14.98" fill="url(#hp)"/>
<rect x="365.2" y="256.7" width="15.06" height="15.08" fill="#ffc400"/>
<rect x="380.2" y="256.7" width="15.06" height="15.08" fill="#f0ff33"/>
<rect x="395.1" y="256.7" width="15.06" height="15.08" fill="#ff7700"/>
<rect x="410.1" y="256.7" width="15.06" height="15.08" fill="#ff7700"/>
<rect x="425.1" y="256.7" width="15.06" height="15.08" fill="#ffc400"/>
<rect x="440.0" y="256.7" width="15.06" height="15.08" fill="#ff7700"/>
<rect x="455.0" y="256.7" width="15.06" height="15.08" fill="#b6ff8f"/>
<rect x="470.0" y="256.7" width="14.96" height="14.98" fill="url(#hp)"/>
<rect x="484.9" y="256.7" width="14.96" height="14.98" fill="url(#hp)"/>
<rect x="499.9" y="256.7" width="15.06" height="15.08" fill="#b6ff8f"/>
<rect x="514.9" y="256.7" width="15.06" height="15.08" fill="#b6ff8f"/>
<rect x="529.8" y="256.7" width="14.96" height="14.98" fill="url(#hp)"/>
<rect x="544.8" y="256.7" width="15.06" height="15.08" fill="#ff0000"/>
<rect x="559.7" y="256.7" width="15.06" height="15.08" fill="#f0ff33"/>
<rect x="574.7" y="256.7" width="15.06" height="15.08" fill="#5cffde"/>
<rect x="589.7" y="256.7" width="15.06" height="15.08" fill="#b6ff8f"/>
<rect x="604.6" y="256.7" width="15.06" height="15.08" fill="#5cffde"/>
<rect x="619.6" y="256.7" width="15.06" height="15.08" fill="#b6ff8f"/>
<rect x="634.6" y="256.7" width="15.06" height="15.08" fill="#b6ff8f"/>
<rect x="649.5" y="256.7" width="15.06" height="15.08" fill="#33c2ff"/>
<rect x="664.5" y="256.7" width="15.06" height="15.08" fill="#33c2ff"/>
<rect x="679.4" y="256.7" width="15.06" height="15.08" fill="#5cffde"/>
<rect x="694.4" y="256.7" width="15.06" height="15.08" fill="#33c2ff"/>
<rect x="709.4" y="256.7" width="15.06" height="15.08" fill="#33c2ff"/>
<rect x="724.3" y="256.7" width="15.06" height="15.08" fill="#3366ff"/>
<rect x="739.3" y="256.7" width="15.06" height="15.08" fill="#3366ff"/>
<rect x="754.3" y="256.7" width="15.06" height="15.08" fill="#0000ff"/>
<rect x="769.2" y="256.7" width="15.06" height="15.08" fill="#0000ff"/>
<rect x="784.2" y="256.7" width="15.06" height="15.08" fill="#3366ff"/>
<rect x="799.1" y="256.7" width="15.06" height="15.08" fill="#0000ff"/>
<rect x="814.1" y="256.7" width="15.06" height="15.08" fill="#0000ff"/>
<rect x="829.1" y="256.7" width="15.06" height="15.08" fill="#3366ff"/>
<rect x="51.0" y="271.7" width="15.06" height="15.08" fill="#ffc400"/>
<rect x="66.0" y="271.7" width="14.96" height="14.98" fill="url(#hp)"/>
<rect x="80.9" y="271.7" width="15.06" height="15.08" fill="#ffc400"/>
<rect x="95.9" y="271.7" width="15.06" height="15.08" fill="#f0ff33"/>
<rect x="110.9" y="271.7" width="15.06" height="15.08" fill="#f0ff33"/>
<rect x="125.8" y="271.7" width="15.06" height="15.08" fill="#f0ff33"/>
<rect x="140.8" y="271.7" width="15.06" height="15.08" fill="#ffc400"/>
<rect x="155.7" y="271.7" width="15.06" height="15.08" fill="#ff7700"/>
<rect x="170.7" y="271.7" width="14.96" height="14.98" fill="url(#hp)"/>
<rect x="185.7" y="271.7" width="15.06" height="15.08" fill="#ff7700"/>
<rect x="200.6" y="271.7" width="15.06" height="15.08" fill="#ff7700"/>
<rect x="215.6" y="271.7" width="14.96" height="14.98" fill="url(#hp)"/>
<rect x="230.6" y="271.7" width="14.96" height="14.98" fill="url(#hp)"/>
<rect x="245.5" y="271.7" width="14.96" height="14.98" fill="url(#hp)"/>
<rect x="260.5" y="271.7" width="14.96" height="14.98" fill="url(#hp)"/>
<rect x="275.4" y="271.7" width="15.06" height="15.08" fill="#ff7700"/>
<rect x="290.4" y="271.7" width="14.96" height="14.98" fill="url(#hp)"/>
<rect x="305.4" y="271.7" width="14.96" height="14.98" fill="url(#hp)"/>
<rect x="320.3" y="271.7" width="14.96" height="14.98" fill="url(#hp)"/>
<rect x="335.3" y="271.7" width="14.96" height="14.98" fill="url(#hp)"/>
<rect x="350.3" y="271.7" width="15.06" height="15.08" fill="#5cffde"/>
<rect x="365.2" y="271.7" width="15.06" height="15.08" fill="#b6ff8f"/>
<rect x="380.2" y="271.7" width="14.96" height="14.98" fill="url(#hp)"/>
<rect x="395.1" y="271.7" width="15.06" height="15.08" fill="#f0ff33"/>
<rect x="410.1" y="271.7" width="15.06" height="15.08" fill="#f0ff33"/>
<rect x="425.1" y="271.7" width="15.06" height="15.08" fill="#ffc400"/>
<rect x="440.0" y="271.7" width="15.06" height="15.08" fill="#ff0000"/>
<rect x="455.0" y="271.7" width="15.06" height="15.08" fill="#f0ff33"/>
<rect x="470.0" y="271.7" width="15.06" height="15.08" fill="#33c2ff"/>
<rect x="484.9" y="271.7" width="15.06" height="15.08" fill="#33c2ff"/>
<rect x="499.9" y="271.7" width="15.06" height="15.08" fill="#f0ff33"/>
<rect x="514.9" y="271.7" width="14.96" height="14.98" fill="url(#hp)"/>
<rect x="529.8" y="271.7" width="15.06" height="15.08" fill="#3366ff"/>
<rect x="544.8" y="271.7" width="15.06" height="15.08" fill="#5cffde"/>
<rect x="559.7" y="271.7" width="15.06" height="15.08" fill="#5cffde"/>
<rect x="574.7" y="271.7" width="15.06" height="15.08" fill="#b6ff8f"/>
<rect x="589.7" y="271.7" width="15.06" height="15.08" fill="#f0ff33"/>
<rect x="604.6" y="271.7" width="15.06" height="15.08" fill="#5cffde"/>
<rect x="619.6" y="271.7" width="15.06" height="15.08" fill="#b6ff8f"/>
<rect x="634.6" y="271.7" width="15.06" height="15.08" fill="#b6ff8f"/>
<rect x="649.5" y="271.7" width="15.06" height="15.08" fill="#b6ff8f"/>
<rect x="664.5" y="271.7" width="15.06" height="15.08" fill="#5cffde"/>
<rect x="679.4" y="271.7" width="15.06" height="15.08" fill="#b6ff8f"/>
<rect x="694.4" y="271.7" width="15.06" height="15.08" fill="#b6ff8f"/>
<rect x="709.4" y="271.7" width="15.06" height="15.08" fill="#b6ff8f"/>
<rect x="724.3" y="271.7" width="15.06" height="15.08" fill="#33c2ff"/>
<rect x="739.3" y="271.7" width="15.06" height="15.08" fill="#3366ff"/>
<rect x="754.3" y="271.7" width="15.06" height="15.08" fill="#3366ff"/>
<rect x="769.2" y="271.7" width="15.06" height="15.08" fill="#3366ff"/>
<rect x="784.2" y="271.7" width="15.06" height="15.08" fill="#3366ff"/>
<rect x="799.1" y="271.7" width="15.06" height="15.08" fill="#0000ff"/>
<rect x="814.1" y="271.7" width="15.06" height="15.08" fill="#0000ff"/>
<rect x="51.0" y="286.7" width="14.96" height="14.98" fill="url(#hp)"/>
<rect x="66.0" y="286.7" width="14.96" height="14.98" fill="url(#hp)"/>
<rect x="80.9" y="286.7" width="15.06" height="15.08" fill="#ffc400"/>
<rect x="95.9" y="286.7" width="15.06" height="15.08" fill="#ffc400"/>
<rect x="110.9" y="286.7" width="15.06" height="15.08" fill="#f0ff33"/>
<rect x="125.8" y="286.7" width="14.96" height="14.98" fill="url(#hp)"/>
<rect x="140.8" y="286.7" width="14.96" height="14.98" fill="url(#hp)"/>
<rect x="155.7" y="286.7" width="15.06" height="15.08" fill="#ff0000"/>
<rect x="170.7" y="286.7" width="14.96" height="14.98" fill="url(#hp)"/>
<rect x="185.7" y="286.7" width="14.96" height="14.98" fill="url(#hp)"/>
<rect x="200.6" y="286.7" width="15.06" height="15.08" fill="#f0ff33"/>
<rect x="215.6" y="286.7" width="15.06" height="15.08" fill="#ffc400"/>
<rect x="230.6" y="286.7" width="15.06" height="15.08" fill="#ffc400"/>
<rect x="245.5" y="286.7" width="14.96" height="14.98" fill="url(#hp)"/>
<rect x="260.5" y="286.7" width="15.06" height="15.08" fill="#ff7700"/>
<rect x="275.4" y="286.7" width="15.06" height="15.08" fill="#ff7700"/>
<rect x="290.4" y="286.7" width="14.96" height="14.98" fill="url(#hp)"/>
<rect x="305.4" y="286.7" width="15.06" height="15.08" fill="#ff7700"/>
<rect x="320.3" y="286.7" width="15.06" height="15.08" fill="#ff7700"/>
<rect x="335.3" y="286.7" width="15.06" height="15.08" fill="#ff7700"/>
<rect x="350.3" y="286.7" width="15.06" height="15.08" fill="#ffc400"/>
<rect x="365.2" y="286.7" width="15.06" height="15.08" fill="#ffc400"/>
<rect x="380.2" y="286.7" width="14.96" height="14.98" fill="url(#hp)"/>
<rect x="395.1" y="286.7" width="14.96" height="14.98" fill="url(#hp)"/>
<rect x="410.1" y="286.7" width="14.96" height="14.98" fill="url(#hp)"/>
<rect x="425.1" y="286.7" width="15.06" height="15.08" fill="#ffc400"/>
<rect x="440.0" y="286.7" width="15.06" height="15.08" fill="#ff7700"/>
<rect x="455.0" y="286.7" width="15.06" height="15.08" fill="#ff0000"/>
<rect x="470.0" y="286.7" width="15.06" height="15.08" fill="#ffc400"/>
<rect x="484.9" y="286.7" width="15.06" height="15.08" fill="#f0ff33"/>
<rect x="499.9" y="286.7" width="15.06" height="15.08" fill="#ffc400"/>
<rect x="514.9" y="286.7" width="14.96" height="14.98" fill="url(#hp)"/>
<rect x="529.8" y="286.7" width="15.06" height="15.08" fill="#33c2ff"/>
<rect x="544.8" y="286.7" width="15.06" height="15.08" fill="#b6ff8f"/>
<rect x="559.7" y="286.7" width="15.06" height="15.08" fill="#5cffde"/>
<rect x="574.7" y="286.7" width="15.06" height="15.08" fill="#f0ff33"/>
<rect x="589.7" y="286.7" width="15.06" height="15.08" fill="#f0ff33"/>
<rect x="604.6" y="286.7" width="15.06" height="15.08" fill="#f0ff33"/>
<rect x="619.6" y="286.7" width="15.06" height="15.08" fill="#f0ff33"/>
<rect x="634.6" y="286.7" width="15.06" height="15.08" fill="#f0ff33"/>
<rect x="649.5" y="286.7" width="15.06" height="15.08" fill="#5cffde"/>
<rect x="664.5" y="286.7" width="15.06" height="15.08" fill="#5cffde"/>
<rect x="679.4" y="286.7" width="15.06" height="15.08" fill="#5cffde"/>
<rect x="694.4" y="286.7" width="15.06" height="15.08" fill="#5cffde"/>
<rect x="709.4" y="286.7" width="15.06" height="15.08" fill="#5cffde"/>
<rect x="724.3" y="286.7" width="15.06" height="15.08" fill="#5cffde"/>
<rect x="739.3" y="286.7" width="15.06" height="15.08" fill="#5cffde"/>
<rect x="754.3" y="286.7" width="15.06" height="15.08" fill="#3366ff"/>
<rect x="769.2" y="286.7" width="15.06" height="15.08" fill="#3366ff"/>
<rect x="784.2" y="286.7" width="15.06" height="15.08" fill="#3366ff"/>
<rect x="66.0" y="301.7" width="14.96" height="14.98" fill="url(#hp)"/>
<rect x="80.9" y="301.7" width="15.06" height="15.08" fill="#ffc400"/>
<rect x="95.9" y="301.7" width="15.06" height="15.08" fill="#ff7700"/>
<rect x="110.9" y="301.7" width="15.06" height="15.08" fill="#ff7700"/>
<rect x="125.8" y="301.7" width="15.06" height="15.08" fill="#ff0000"/>
<rect x="140.8" y="301.7" width="15.06" height="15.08" fill="#ffc400"/>
<rect x="155.7" y="301.7" width="15.06" height="15.08" fill="#ffc400"/>
<rect x="170.7" y="301.7" width="15.06" height="15.08" fill="#ff7700"/>
<rect x="185.7" y="301.7" width="15.06" height="15.08" fill="#ffc400"/>
<rect x="200.6" y="301.7" width="14.96" height="14.98" fill="url(#hp)"/>
<rect x="215.6" y="301.7" width="15.06" height="15.08" fill="#ff7700"/>
<rect x="230.6" y="301.7" width="14.96" height="14.98" fill="url(#hp)"/>
<rect x="245.5" y="301.7" width="14.96" height="14.98" fill="url(#hp)"/>
<rect x="260.5" y="301.7" width="14.96" height="14.98" fill="url(#hp)"/>
<rect x="275.4" y="301.7" width="15.06" height="15.08" fill="#ff7700"/>
<rect x="290.4" y="301.7" width="14.96" height="14.98" fill="url(#hp)"/>
<rect x="305.4" y="301.7" width="14.96" height="14.98" fill="url(#hp)"/>
<rect x="320.3" y="301.7" width="15.06" height="15.08" fill="#ff7700"/>
<rect x="335.3" y="301.7" width="15.06" height="15.08" fill="#ff7700"/>
<rect x="350.3" y="301.7" width="15.06" height="15.08" fill="#ffc400"/>
<rect x="365.2" y="301.7" width="15.06" height="15.08" fill="#ffc400"/>
<rect x="380.2" y="301.7" width="15.06" height="15.08" fill="#ffc400"/>
<rect x="395.1" y="301.7" width="15.06" height="15.08" fill="#f0ff33"/>
<rect x="410.1" y="301.7" width="15.06" height="15.08" fill="#f0ff33"/>
<rect x="425.1" y="301.7" width="15.06" height="15.08" fill="#ff7700"/>
<rect x="440.0" y="301.7" width="15.06" height="15.08" fill="#ff0000"/>
<rect x="455.0" y="301.7" width="15.06" height="15.08" fill="#ff7700"/>
<rect x="470.0" y="301.7" width="15.06" height="15.08" fill="#f0ff33"/>
<rect x="484.9" y="301.7" width="15.06" height="15.08" fill="#b6ff8f"/>
<rect x="499.9" y="301.7" width="15.06" height="15.08" fill="#f0ff33"/>
<rect x="514.9" y="301.7" width="15.06" height="15.08" fill="#5cffde"/>
<rect x="529.8" y="301.7" width="15.06" height="15.08" fill="#5cffde"/>
<rect x="544.8" y="301.7" width="15.06" height="15.08" fill="#33c2ff"/>
<rect x="559.7" y="301.7" width="15.06" height="15.08" fill="#5cffde"/>
<rect x="574.7" y="301.7" width="15.06" height="15.08" fill="#b6ff8f"/>
<rect x="589.7" y="301.7" width="15.06" height="15.08" fill="#b6ff8f"/>
<rect x="604.6" y="301.7" width="15.06" height="15.08" fill="#b6ff8f"/>
<rect x="619.6" y="301.7" width="15.06" height="15.08" fill="#f0ff33"/>
<rect x="634.6" y="301.7" width="15.06" height="15.08" fill="#f0ff33"/>
<rect x="649.5" y="301.7" width="15.06" height="15.08" fill="#b6ff8f"/>
<rect x="664.5" y="301.7" width="15.06" height="15.08" fill="#5cffde"/>
<rect x="679.4" y="301.7" width="15.06" height="15.08" fill="#5cffde"/>
<rect x="694.4" y="301.7" width="15.06" height="15.08" fill="#5cffde"/>
<rect x="709.4" y="301.7" width="15.06" height="15.08" fill="#5cffde"/>
<rect x="724.3" y="301.7" width="15.06" height="15.08" fill="#5cffde"/>
<rect x="739.3" y="301.7" width="15.06" height="15.08" fill="#5cffde"/>
<rect x="754.3" y="301.7" width="15.06" height="15.08" fill="#5cffde"/>
<rect x="769.2" y="301.7" width="15.06" height="15.08" fill="#5cffde"/>
<rect x="784.2" y="301.7" width="15.06" height="15.08" fill="#33c2ff"/>
<rect x="80.9" y="316.7" width="15.06" height="15.08" fill="#ff7700"/>
<rect x="95.9" y="316.7" width="14.96" height="14.98" fill="url(#hp)"/>
<rect x="110.9" y="316.7" width="14.96" height="14.98" fill="url(#hp)"/>
<rect x="125.8" y="316.7" width="15.06" height="15.08" fill="#f0ff33"/>
<rect x="140.8" y="316.7" width="15.06" height="15.08" fill="#ffc400"/>
<rect x="155.7" y="316.7" width="15.06" height="15.08" fill="#ffc400"/>
<rect x="170.7" y="316.7" width="15.06" height="15.08" fill="#ff7700"/>
<rect x="185.7" y="316.7" width="14.96" height="14.98" fill="url(#hp)"/>
<rect x="200.6" y="316.7" width="15.06" height="15.08" fill="#ff7700"/>
<rect x="215.6" y="316.7" width="14.96" height="14.98" fill="url(#hp)"/>
<rect x="230.6" y="316.7" width="14.96" height="14.98" fill="url(#hp)"/>
<rect x="245.5" y="316.7" width="14.96" height="14.98" fill="url(#hp)"/>
<rect x="260.5" y="316.7" width="14.96" height="14.98" fill="url(#hp)"/>
<rect x="275.4" y="316.7" width="14.96" height="14.98" fill="url(#hp)"/>
<rect x="290.4" y="316.7" width="14.96" height="14.98" fill="url(#hp)"/>
<rect x="305.4" y="316.7" width="14.96" height="14.98" fill="url(#hp)"/>
<rect x="320.3" y="316.7" width="15.06" height="15.08" fill="#ff7700"/>
<rect x="335.3" y="316.7" width="15.06" height="15.08" fill="#ffc400"/>
<rect x="350.3" y="316.7" width="15.06" height="15.08" fill="#ffc400"/>
<rect x="365.2" y="316.7" width="15.06" height="15.08" fill="#ffc400"/>
<rect x="380.2" y="316.7" width="15.06" height="15.08" fill="#f0ff33"/>
<rect x="395.1" y="316.7" width="15.06" height="15.08" fill="#f0ff33"/>
<rect x="410.1" y="316.7" width="15.06" height="15.08" fill="#b6ff8f"/>
<rect x="425.1" y="316.7" width="15.06" height="15.08" fill="#5cffde"/>
<rect x="440.0" y="316.7" width="15.06" height="15.08" fill="#33c2ff"/>
<rect x="455.0" y="316.7" width="15.06" height="15.08" fill="#b6ff8f"/>
<rect x="470.0" y="316.7" width="15.06" height="15.08" fill="#b6ff8f"/>
<rect x="484.9" y="316.7" width="15.06" height="15.08" fill="#5cffde"/>
<rect x="499.9" y="316.7" width="15.06" height="15.08" fill="#b6ff8f"/>
<rect x="514.9" y="316.7" width="15.06" height="15.08" fill="#b6ff8f"/>
<rect x="529.8" y="316.7" width="15.06" height="15.08" fill="#33c2ff"/>
<rect x="544.8" y="316.7" width="15.06" height="15.08" fill="#33c2ff"/>
<rect x="559.7" y="316.7" width="15.06" height="15.08" fill="#5cffde"/>
<rect x="574.7" y="316.7" width="15.06" height="15.08" fill="#b6ff8f"/>
<rect x="589.7" y="316.7" width="15.06" height="15.08" fill="#f0ff33"/>
<rect x="604.6" y="316.7" width="15.06" height="15.08" fill="#b6ff8f"/>
<rect x="619.6" y="316.7" width="15.06" height="15.08" fill="#ffc400"/>
<rect x="634.6" y="316.7" width="15.06" height="15.08" fill="#ffc400"/>
<rect x="649.5" y="316.7" width="15.06" height="15.08" fill="#ffc400"/>
<rect x="664.5" y="316.7" width="15.06" height="15.08" fill="#b6ff8f"/>
<rect x="679.4" y="316.7" width="15.06" height="15.08" fill="#b6ff8f"/>
<rect x="694.4" y="316.7" width="15.06" height="15.08" fill="#b6ff8f"/>
<rect x="709.4" y="316.7" width="15.06" height="15.08" fill="#b6ff8f"/>
<rect x="724.3" y="316.7" width="15.06" height="15.08" fill="#5cffde"/>
<rect x="739.3" y="316.7" width="15.06" height="15.08" fill="#5cffde"/>
<rect x="754.3" y="316.7" width="15.06" height="15.08" fill="#5cffde"/>
<rect x="769.2" y="316.7" width="15.06" height="15.08" fill="#5cffde"/>
<rect x="784.2" y="316.7" width="15.06" height="15.08" fill="#33c2ff"/>
<rect x="95.9" y="331.6" width="14.96" height="14.98" fill="url(#hp)"/>
<rect x="110.9" y="331.6" width="14.96" height="14.98" fill="url(#hp)"/>
<rect x="125.8" y="331.6" width="14.96" height="14.98" fill="url(#hp)"/>
<rect x="140.8" y="331.6" width="14.96" height="14.98" fill="url(#hp)"/>
<rect x="155.7" y="331.6" width="15.06" height="15.08" fill="#ff7700"/>
<rect x="170.7" y="331.6" width="15.06" height="15.08" fill="#ff7700"/>
<rect x="185.7" y="331.6" width="15.06" height="15.08" fill="#ff0000"/>
<rect x="200.6" y="331.6" width="14.96" height="14.98" fill="url(#hp)"/>
<rect x="215.6" y="331.6" width="14.96" height="14.98" fill="url(#hp)"/>
<rect x="230.6" y="331.6" width="15.06" height="15.08" fill="#ff7700"/>
<rect x="245.5" y="331.6" width="14.96" height="14.98" fill="url(#hp)"/>
<rect x="260.5" y="331.6" width="14.96" height="14.98" fill="url(#hp)"/>
<rect x="275.4" y="331.6" width="14.96" height="14.98" fill="url(#hp)"/>
<rect x="290.4" y="331.6" width="14.96" height="14.98" fill="url(#hp)"/>
<rect x="305.4" y="331.6" width="14.96" height="14.98" fill="url(#hp)"/>
<rect x="320.3" y="331.6" width="14.96" height="14.98" fill="url(#hp)"/>
<rect x="335.3" y="331.6" width="14.96" height="14.98" fill="url(#hp)"/>
<rect x="350.3" y="331.6" width="15.06" height="15.08" fill="#ffc400"/>
<rect x="365.2" y="331.6" width="15.06" height="15.08" fill="#ffc400"/>
<rect x="380.2" y="331.6" width="14.96" height="14.98" fill="url(#hp)"/>
<rect x="395.1" y="331.6" width="14.96" height="14.98" fill="url(#hp)"/>
<rect x="410.1" y="331.6" width="15.06" height="15.08" fill="#5cffde"/>
<rect x="425.1" y="331.6" width="15.06" height="15.08" fill="#33c2ff"/>
<rect x="440.0" y="331.6" width="15.06" height="15.08" fill="#33c2ff"/>
<rect x="455.0" y="331.6" width="15.06" height="15.08" fill="#33c2ff"/>
<rect x="470.0" y="331.6" width="15.06" height="15.08" fill="#33c2ff"/>
<rect x="484.9" y="331.6" width="15.06" height="15.08" fill="#33c2ff"/>
<rect x="499.9" y="331.6" width="15.06" height="15.08" fill="#33c2ff"/>
<rect x="514.9" y="331.6" width="15.06" height="15.08" fill="#b6ff8f"/>
<rect x="529.8" y="331.6" width="15.06" height="15.08" fill="#b6ff8f"/>
<rect x="544.8" y="331.6" width="15.06" height="15.08" fill="#b6ff8f"/>
<rect x="559.7" y="331.6" width="15.06" height="15.08" fill="#f0ff33"/>
<rect x="574.7" y="331.6" width="15.06" height="15.08" fill="#ffc400"/>
<rect x="589.7" y="331.6" width="15.06" height="15.08" fill="#ffc400"/>
<rect x="604.6" y="331.6" width="15.06" height="15.08" fill="#ffc400"/>
<rect x="619.6" y="331.6" width="15.06" height="15.08" fill="#f0ff33"/>
<rect x="634.6" y="331.6" width="15.06" height="15.08" fill="#ffc400"/>
<rect x="649.5" y="331.6" width="15.06" height="15.08" fill="#ffc400"/>
<rect x="664.5" y="331.6" width="15.06" height="15.08" fill="#f0ff33"/>
<rect x="679.4" y="331.6" width="15.06" height="15.08" fill="#f0ff33"/>
<rect x="694.4" y="331.6" width="15.06" height="15.08" fill="#f0ff33"/>
<rect x="709.4" y="331.6" width="15.06" height="15.08" fill="#f0ff33"/>
<rect x="724.3" y="331.6" width="15.06" height="15.08" fill="#f0ff33"/>
<rect x="739.3" y="331.6" width="15.06" height="15.08" fill="#b6ff8f"/>
<rect x="754.3" y="331.6" width="15.06" height="15.08" fill="#b6ff8f"/>
<rect x="110.9" y="346.6" width="14.96" height="14.98" fill="url(#hp)"/>
<rect x="125.8" y="346.6" width="14.96" height="14.98" fill="url(#hp)"/>
<rect x="140.8" y="346.6" width="14.96" height="14.98" fill="url(#hp)"/>
<rect x="155.7" y="346.6" width="14.96" height="14.98" fill="url(#hp)"/>
<rect x="170.7" y="346.6" width="14.96" height="14.98" fill="url(#hp)"/>
<rect x="185.7" y="346.6" width="15.06" height="15.08" fill="#ff0000"/>
<rect x="200.6" y="346.6" width="14.96" height="14.98" fill="url(#hp)"/>
<rect x="215.6" y="346.6" width="14.96" height="14.98" fill="url(#hp)"/>
<rect x="230.6" y="346.6" width="14.96" height="14.98" fill="url(#hp)"/>
<rect x="245.5" y="346.6" width="14.96" height="14.98" fill="url(#hp)"/>
<rect x="260.5" y="346.6" width="14.96" height="14.98" fill="url(#hp)"/>
<rect x="275.4" y="346.6" width="14.96" height="14.98" fill="url(#hp)"/>
<rect x="290.4" y="346.6" width="15.06" height="15.08" fill="#f0ff33"/>
<rect x="305.4" y="346.6" width="14.96" height="14.98" fill="url(#hp)"/>
<rect x="320.3" y="346.6" width="14.96" height="14.98" fill="url(#hp)"/>
<rect x="335.3" y="346.6" width="15.06" height="15.08" fill="#f0ff33"/>
<rect x="350.3" y="346.6" width="14.96" height="14.98" fill="url(#hp)"/>
<rect x="365.2" y="346.6" width="14.96" height="14.98" fill="url(#hp)"/>
<rect x="380.2" y="346.6" width="15.06" height="15.08" fill="#b6ff8f"/>
<rect x="395.1" y="346.6" width="14.96" height="14.98" fill="url(#hp)"/>
<rect x="410.1" y="346.6" width="14.96" height="14.98" fill="url(#hp)"/>
<rect x="425.1" y="346.6" width="15.06" height="15.08" fill="#33c2ff"/>
<rect x="440.0" y="346.6" width="14.96" height="14.98" fill="url(#hp)"/>
<rect x="455.0" y="346.6" width="15.06" height="15.08" fill="#33c2ff"/>
<rect x="470.0" y="346.6" width="15.06" height="15.08" fill="#33c2ff"/>
<rect x="484.9" y="346.6" width="15.06" height="15.08" fill="#5cffde"/>
<rect x="499.9" y="346.6" width="15.06" height="15.08" fill="#5cffde"/>
<rect x="514.9" y="346.6" width="15.06" height="15.08" fill="#b6ff8f"/>
<rect x="529.8" y="346.6" width="15.06" height="15.08" fill="#5cffde"/>
<rect x="544.8" y="346.6" width="15.06" height="15.08" fill="#b6ff8f"/>
<rect x="559.7" y="346.6" width="15.06" height="15.08" fill="#f0ff33"/>
<rect x="574.7" y="346.6" width="15.06" height="15.08" fill="#ffc400"/>
<rect x="589.7" y="346.6" width="15.06" height="15.08" fill="#ffc400"/>
<rect x="604.6" y="346.6" width="15.06" height="15.08" fill="#f0ff33"/>
<rect x="619.6" y="346.6" width="15.06" height="15.08" fill="#b6ff8f"/>
<rect x="634.6" y="346.6" width="15.06" height="15.08" fill="#f0ff33"/>
<rect x="649.5" y="346.6" width="15.06" height="15.08" fill="#ffc400"/>
<rect x="664.5" y="346.6" width="15.06" height="15.08" fill="#f0ff33"/>
<rect x="679.4" y="346.6" width="15.06" height="15.08" fill="#f0ff33"/>
<rect x="694.4" y="346.6" width="15.06" height="15.08" fill="#ffc400"/>
<rect x="709.4" y="346.6" width="15.06" height="15.08" fill="#ff7700"/>
<rect x="724.3" y="346.6" width="15.06" height="15.08" fill="#ff7700"/>
<rect x="739.3" y="346.6" width="15.06" height="15.08" fill="#f0ff33"/>
<rect x="754.3" y="346.6" width="15.06" height="15.08" fill="#b6ff8f"/>
<rect x="125.8" y="361.6" width="14.96" height="14.98" fill="url(#hp)"/>
<rect x="140.8" y="361.6" width="15.06" height="15.08" fill="#ffc400"/>
<rect x="155.7" y="361.6" width="14.96" height="14.98" fill="url(#hp)"/>
<rect x="170.7" y="361.6" width="14.96" height="14.98" fill="url(#hp)"/>
<rect x="185.7" y="361.6" width="14.96" height="14.98" fill="url(#hp)"/>
<rect x="200.6" y="361.6" width="14.96" height="14.98" fill="url(#hp)"/>
<rect x="215.6" y="361.6" width="14.96" height="14.98" fill="url(#hp)"/>
<rect x="230.6" y="361.6" width="14.96" height="14.98" fill="url(#hp)"/>
<rect x="245.5" y="361.6" width="14.96" height="14.98" fill="url(#hp)"/>
<rect x="260.5" y="361.6" width="14.96" height="14.98" fill="url(#hp)"/>
<rect x="275.4" y="361.6" width="14.96" height="14.98" fill="url(#hp)"/>
<rect x="290.4" y="361.6" width="14.96" height="14.98" fill="url(#hp)"/>
<rect x="305.4" y="361.6" width="14.96" height="14.98" fill="url(#hp)"/>
<rect x="320.3" y="361.6" width="14.96" height="14.98" fill="url(#hp)"/>
<rect x="335.3" y="361.6" width="15.06" height="15.08" fill="#b6ff8f"/>
<rect x="350.3" y="361.6" width="14.96" height="14.98" fill="url(#hp)"/>
<rect x="365.2" y="361.6" width="14.96" height="14.98" fill="url(#hp)"/>
<rect x="380.2" y="361.6" width="15.06" height="15.08" fill="#5cffde"/>
<rect x="395.1" y="361.6" width="15.06" height="15.08" fill="#5cffde"/>
<rect x="410.1" y="361.6" width="15.06" height="15.08" fill="#33c2ff"/>
<rect x="425.1" y="361.6" width="15.06" height="15.08" fill="#33c2ff"/>
<rect x="440.0" y="361.6" width="15.06" height="15.08" fill="#5cffde"/>
<rect x="455.0" y="361.6" width="15.06" height="15.08" fill="#5cffde"/>
<rect x="470.0" y="361.6" width="15.06" height="15.08" fill="#5cffde"/>
<rect x="484.9" y="361.6" width="15.06" height="15.08" fill="#b6ff8f"/>
<rect x="499.9" y="361.6" width="15.06" height="15.08" fill="#b6ff8f"/>
<rect x="514.9" y="361.6" width="15.06" height="15.08" fill="#5cffde"/>
<rect x="529.8" y="361.6" width="15.06" height="15.08" fill="#5cffde"/>
<rect x="544.8" y="361.6" width="15.06" height="15.08" fill="#b6ff8f"/>
<rect x="559.7" y="361.6" width="15.06" height="15.08" fill="#5cffde"/>
<rect x="574.7" y="361.6" width="15.06" height="15.08" fill="#f0ff33"/>
<rect x="589.7" y="361.6" width="15.06" height="15.08" fill="#ff7700"/>
<rect x="604.6" y="361.6" width="15.06" height="15.08" fill="#ffc400"/>
<rect x="619.6" y="361.6" width="15.06" height="15.08" fill="#f0ff33"/>
<rect x="634.6" y="361.6" width="15.06" height="15.08" fill="#ffc400"/>
<rect x="649.5" y="361.6" width="15.06" height="15.08" fill="#ff7700"/>
<rect x="664.5" y="361.6" width="15.06" height="15.08" fill="#f0ff33"/>
<rect x="679.4" y="361.6" width="15.06" height="15.08" fill="#ffc400"/>
<rect x="694.4" y="361.6" width="15.06" height="15.08" fill="#ff7700"/>
<rect x="709.4" y="361.6" width="15.06" height="15.08" fill="#ff0000"/>
<rect x="724.3" y="361.6" width="15.06" height="15.08" fill="#ff0000"/>
<rect x="739.3" y="361.6" width="15.06" height="15.08" fill="#ff7700"/>
<rect x="754.3" y="361.6" width="15.06" height="15.08" fill="#ffc400"/>
<rect x="125.8" y="376.6" width="14.96" height="14.98" fill="url(#hp)"/>
<rect x="140.8" y="376.6" width="14.96" height="14.98" fill="url(#hp)"/>
<rect x="155.7" y="376.6" width="15.06" height="15.08" fill="#ff7700"/>
<rect x="170.7" y="376.6" width="14.96" height="14.98" fill="url(#hp)"/>
<rect x="185.7" y="376.6" width="14.96" height="14.98" fill="url(#hp)"/>
<rect x="200.6" y="376.6" width="14.96" height="14.98" fill="url(#hp)"/>
<rect x="215.6" y="376.6" width="14.96" height="14.98" fill="url(#hp)"/>
<rect x="230.6" y="376.6" width="14.96" height="14.98" fill="url(#hp)"/>
<rect x="245.5" y="376.6" width="14.96" height="14.98" fill="url(#hp)"/>
<rect x="260.5" y="376.6" width="14.96" height="14.98" fill="url(#hp)"/>
<rect x="275.4" y="376.6" width="14.96" height="14.98" fill="url(#hp)"/>
<rect x="290.4" y="376.6" width="14.96" height="14.98" fill="url(#hp)"/>
<rect x="305.4" y="376.6" width="14.96" height="14.98" fill="url(#hp)"/>
<rect x="320.3" y="376.6" width="15.06" height="15.08" fill="#b6ff8f"/>
<rect x="335.3" y="376.6" width="15.06" height="15.08" fill="#b6ff8f"/>
<rect x="350.3" y="376.6" width="14.96" height="14.98" fill="url(#hp)"/>
<rect x="365.2" y="376.6" width="14.96" height="14.98" fill="url(#hp)"/>
<rect x="380.2" y="376.6" width="15.06" height="15.08" fill="#5cffde"/>
<rect x="395.1" y="376.6" width="15.06" height="15.08" fill="#5cffde"/>
<rect x="410.1" y="376.6" width="15.06" height="15.08" fill="#33c2ff"/>
<rect x="425.1" y="376.6" width="15.06" height="15.08" fill="#33c2ff"/>
<rect x="440.0" y="376.6" width="14.96" height="14.98" fill="url(#hp)"/>
<rect x="455.0" y="376.6" width="15.06" height="15.08" fill="#f0ff33"/>
<rect x="470.0" y="376.6" width="15.06" height="15.08" fill="#b6ff8f"/>
<rect x="484.9" y="376.6" width="15.06" height="15.08" fill="#f0ff33"/>
<rect x="499.9" y="376.6" width="15.06" height="15.08" fill="#b6ff8f"/>
<rect x="514.9" y="376.6" width="15.06" height="15.08" fill="#5cffde"/>
<rect x="529.8" y="376.6" width="15.06" height="15.08" fill="#b6ff8f"/>
<rect x="544.8" y="376.6" width="15.06" height="15.08" fill="#33c2ff"/>
<rect x="559.7" y="376.6" width="15.06" height="15.08" fill="#33c2ff"/>
<rect x="574.7" y="376.6" width="15.06" height="15.08" fill="#f0ff33"/>
<rect x="589.7" y="376.6" width="15.06" height="15.08" fill="#ff7700"/>
<rect x="604.6" y="376.6" width="15.06" height="15.08" fill="#ff0000"/>
<rect x="619.6" y="376.6" width="15.06" height="15.08" fill="#ff0000"/>
<rect x="634.6" y="376.6" width="15.06" height="15.08" fill="#ff0000"/>
<rect x="649.5" y="376.6" width="15.06" height="15.08" fill="#ff7700"/>
<rect x="664.5" y="376.6" width="15.06" height="15.08" fill="#ff7700"/>
<rect x="679.4" y="376.6" width="15.06" height="15.08" fill="#ff7700"/>
<rect x="694.4" y="376.6" width="15.06" height="15.08" fill="#ff7700"/>
<rect x="709.4" y="376.6" width="15.06" height="15.08" fill="#ff0000"/>
<rect x="724.3" y="376.6" width="15.06" height="15.08" fill="#ff0000"/>
<rect x="739.3" y="376.6" width="15.06" height="15.08" fill="#ffc400"/>
<rect x="754.3" y="376.6" width="15.06" height="15.08" fill="#ffc400"/>
<rect x="769.2" y="376.6" width="15.06" height="15.08" fill="#ffc400"/>
<rect x="125.8" y="391.6" width="15.06" height="15.08" fill="#ff7700"/>
<rect x="140.8" y="391.6" width="14.96" height="14.98" fill="url(#hp)"/>
<rect x="155.7" y="391.6" width="14.96" height="14.98" fill="url(#hp)"/>
<rect x="170.7" y="391.6" width="14.96" height="14.98" fill="url(#hp)"/>
<rect x="185.7" y="391.6" width="14.96" height="14.98" fill="url(#hp)"/>
<rect x="200.6" y="391.6" width="14.96" height="14.98" fill="url(#hp)"/>
<rect x="215.6" y="391.6" width="14.96" height="14.98" fill="url(#hp)"/>
<rect x="230.6" y="391.6" width="14.96" height="14.98" fill="url(#hp)"/>
<rect x="245.5" y="391.6" width="14.96" height="14.98" fill="url(#hp)"/>
<rect x="260.5" y="391.6" width="15.06" height="15.08" fill="#ff0000"/>
<rect x="275.4" y="391.6" width="14.96" height="14.98" fill="url(#hp)"/>
<rect x="290.4" y="391.6" width="15.06" height="15.08" fill="#ff7700"/>
<rect x="305.4" y="391.6" width="15.06" height="15.08" fill="#ffc400"/>
<rect x="320.3" y="391.6" width="15.06" height="15.08" fill="#f0ff33"/>
<rect x="335.3" y="391.6" width="15.06" height="15.08" fill="#b6ff8f"/>
<rect x="350.3" y="391.6" width="15.06" height="15.08" fill="#b6ff8f"/>
<rect x="365.2" y="391.6" width="14.96" height="14.98" fill="url(#hp)"/>
<rect x="380.2" y="391.6" width="15.06" height="15.08" fill="#f0ff33"/>
<rect x="395.1" y="391.6" width="15.06" height="15.08" fill="#b6ff8f"/>
<rect x="410.1" y="391.6" width="15.06" height="15.08" fill="#b6ff8f"/>
<rect x="425.1" y="391.6" width="15.06" height="15.08" fill="#f0ff33"/>
<rect x="440.0" y="391.6" width="15.06" height="15.08" fill="#ffc400"/>
<rect x="455.0" y="391.6" width="15.06" height="15.08" fill="#ff0000"/>
<rect x="470.0" y="391.6" width="15.06" height="15.08" fill="#ff0000"/>
<rect x="484.9" y="391.6" width="15.06" height="15.08" fill="#ff7700"/>
<rect x="499.9" y="391.6" width="15.06" height="15.08" fill="#ff7700"/>
<rect x="514.9" y="391.6" width="15.06" height="15.08" fill="#f0ff33"/>
<rect x="529.8" y="391.6" width="15.06" height="15.08" fill="#b6ff8f"/>
<rect x="544.8" y="391.6" width="15.06" height="15.08" fill="#33c2ff"/>
<rect x="559.7" y="391.6" width="15.06" height="15.08" fill="#33c2ff"/>
<rect x="574.7" y="391.6" width="15.06" height="15.08" fill="#b6ff8f"/>
<rect x="589.7" y="391.6" width="15.06" height="15.08" fill="#ff0000"/>
<rect x="604.6" y="391.6" width="15.06" height="15.08" fill="#ff0000"/>
<rect x="619.6" y="391.6" width="15.06" height="15.08" fill="#ff0000"/>
<rect x="634.6" y="391.6" width="15.06" height="15.08" fill="#ff0000"/>
<rect x="649.5" y="391.6" width="15.06" height="15.08" fill="#ff7700"/>
<rect x="664.5" y="391.6" width="15.06" height="15.08" fill="#ffc400"/>
<rect x="679.4" y="391.6" width="15.06" height="15.08" fill="#ffc400"/>
<rect x="694.4" y="391.6" width="15.06" height="15.08" fill="#ffc400"/>
<rect x="709.4" y="391.6" width="15.06" height="15.08" fill="#f0ff33"/>
<rect x="724.3" y="391.6" width="15.06" height="15.08" fill="#f0ff33"/>
<rect x="739.3" y="391.6" width="15.06" height="15.08" fill="#ffc400"/>
<rect x="754.3" y="391.6" width="15.06" height="15.08" fill="#ffc400"/>
<rect x="769.2" y="391.6" width="15.06" height="15.08" fill="#ffc400"/>
<rect x="784.2" y="391.6" width="15.06" height="15.08" fill="#ffc400"/>
<rect x="140.8" y="406.5" width="15.06" height="15.08" fill="#ff0000"/>
<rect x="155.7" y="406.5" width="15.06" height="15.08" fill="#ff0000"/>
<rect x="170.7" y="406.5" width="15.06" height="15.08" fill="#ff0000"/>
<rect x="185.7" y="406.5" width="14.96" height="14.98" fill="url(#hp)"/>
<rect x="200.6" y="406.5" width="14.96" height="14.98" fill="url(#hp)"/>
<rect x="215.6" y="406.5" width="14.96" height="14.98" fill="url(#hp)"/>
<rect x="230.6" y="406.5" width="14.96" height="14.98" fill="url(#hp)"/>
<rect x="245.5" y="406.5" width="14.96" height="14.98" fill="url(#hp)"/>
<rect x="260.5" y="406.5" width="14.96" height="14.98" fill="url(#hp)"/>
<rect x="275.4" y="406.5" width="15.06" height="15.08" fill="#ff0000"/>
<rect x="290.4" y="406.5" width="14.96" height="14.98" fill="url(#hp)"/>
<rect x="305.4" y="406.5" width="15.06" height="15.08" fill="#ff7700"/>
<rect x="320.3" y="406.5" width="15.06" height="15.08" fill="#ffc400"/>
<rect x="335.3" y="406.5" width="14.96" height="14.98" fill="url(#hp)"/>
<rect x="350.3" y="406.5" width="15.06" height="15.08" fill="#b6ff8f"/>
<rect x="365.2" y="406.5" width="15.06" height="15.08" fill="#ffc400"/>
<rect x="380.2" y="406.5" width="15.06" height="15.08" fill="#ffc400"/>
<rect x="395.1" y="406.5" width="15.06" height="15.08" fill="#ffc400"/>
<rect x="410.1" y="406.5" width="15.06" height="15.08" fill="#ff7700"/>
<rect x="425.1" y="406.5" width="15.06" height="15.08" fill="#ff7700"/>
<rect x="440.0" y="406.5" width="15.06" height="15.08" fill="#ffc400"/>
<rect x="455.0" y="406.5" width="15.06" height="15.08" fill="#ff0000"/>
<rect x="470.0" y="406.5" width="15.06" height="15.08" fill="#ff0000"/>
<rect x="484.9" y="406.5" width="15.06" height="15.08" fill="#ff7700"/>
<rect x="499.9" y="406.5" width="15.06" height="15.08" fill="#ffc400"/>
<rect x="514.9" y="406.5" width="15.06" height="15.08" fill="#ffc400"/>
<rect x="529.8" y="406.5" width="15.06" height="15.08" fill="#5cffde"/>
<rect x="544.8" y="406.5" width="15.06" height="15.08" fill="#33c2ff"/>
<rect x="559.7" y="406.5" width="15.06" height="15.08" fill="#5cffde"/>
<rect x="574.7" y="406.5" width="15.06" height="15.08" fill="#f0ff33"/>
<rect x="589.7" y="406.5" width="15.06" height="15.08" fill="#ffc400"/>
<rect x="604.6" y="406.5" width="15.06" height="15.08" fill="#ff0000"/>
<rect x="619.6" y="406.5" width="15.06" height="15.08" fill="#ff0000"/>
<rect x="634.6" y="406.5" width="15.06" height="15.08" fill="#ff7700"/>
<rect x="649.5" y="406.5" width="15.06" height="15.08" fill="#ffc400"/>
<rect x="664.5" y="406.5" width="15.06" height="15.08" fill="#b6ff8f"/>
<rect x="679.4" y="406.5" width="15.06" height="15.08" fill="#5cffde"/>
<rect x="694.4" y="406.5" width="15.06" height="15.08" fill="#b6ff8f"/>
<rect x="709.4" y="406.5" width="15.06" height="15.08" fill="#5cffde"/>
<rect x="724.3" y="406.5" width="15.06" height="15.08" fill="#f0ff33"/>
<rect x="739.3" y="406.5" width="15.06" height="15.08" fill="#ffc400"/>
<rect x="754.3" y="406.5" width="15.06" height="15.08" fill="#ffc400"/>
<rect x="769.2" y="406.5" width="15.06" height="15.08" fill="#f0ff33"/>
<rect x="784.2" y="406.5" width="15.06" height="15.08" fill="#f0ff33"/>
<rect x="185.7" y="421.5" width="15.06" height="15.08" fill="#b6ff8f"/>
<rect x="200.6" y="421.5" width="14.96" height="14.98" fill="url(#hp)"/>
<rect x="215.6" y="421.5" width="14.96" height="14.98" fill="url(#hp)"/>
<rect x="230.6" y="421.5" width="14.96" height="14.98" fill="url(#hp)"/>
<rect x="245.5" y="421.5" width="14.96" height="14.98" fill="url(#hp)"/>
<rect x="260.5" y="421.5" width="15.06" height="15.08" fill="#b6ff8f"/>
<rect x="275.4" y="421.5" width="15.06" height="15.08" fill="#5cffde"/>
<rect x="290.4" y="421.5" width="15.06" height="15.08" fill="#5cffde"/>
<rect x="305.4" y="421.5" width="15.06" height="15.08" fill="#ff7700"/>
<rect x="320.3" y="421.5" width="15.06" height="15.08" fill="#ffc400"/>
<rect x="335.3" y="421.5" width="15.06" height="15.08" fill="#ff7700"/>
<rect x="350.3" y="421.5" width="15.06" height="15.08" fill="#ff0000"/>
<rect x="365.2" y="421.5" width="15.06" height="15.08" fill="#ff0000"/>
<rect x="380.2" y="421.5" width="15.06" height="15.08" fill="#ff0000"/>
<rect x="395.1" y="421.5" width="14.96" height="14.98" fill="url(#hp)"/>
<rect x="410.1" y="421.5" width="15.06" height="15.08" fill="#ff0000"/>
<rect x="425.1" y="421.5" width="15.06" height="15.08" fill="#ff0000"/>
<rect x="440.0" y="421.5" width="15.06" height="15.08" fill="#ff7700"/>
<rect x="455.0" y="421.5" width="15.06" height="15.08" fill="#ff7700"/>
<rect x="470.0" y="421.5" width="15.06" height="15.08" fill="#ff0000"/>
<rect x="484.9" y="421.5" width="15.06" height="15.08" fill="#ff7700"/>
<rect x="499.9" y="421.5" width="15.06" height="15.08" fill="#f0ff33"/>
<rect x="514.9" y="421.5" width="15.06" height="15.08" fill="#b6ff8f"/>
<rect x="529.8" y="421.5" width="15.06" height="15.08" fill="#5cffde"/>
<rect x="544.8" y="421.5" width="15.06" height="15.08" fill="#33c2ff"/>
<rect x="559.7" y="421.5" width="15.06" height="15.08" fill="#33c2ff"/>
<rect x="574.7" y="421.5" width="15.06" height="15.08" fill="#f0ff33"/>
<rect x="589.7" y="421.5" width="15.06" height="15.08" fill="#ff7700"/>
<rect x="604.6" y="421.5" width="15.06" height="15.08" fill="#ff7700"/>
<rect x="619.6" y="421.5" width="15.06" height="15.08" fill="#f0ff33"/>
<rect x="634.6" y="421.5" width="15.06" height="15.08" fill="#ffc400"/>
<rect x="649.5" y="421.5" width="15.06" height="15.08" fill="#ffc400"/>
<rect x="664.5" y="421.5" width="15.06" height="15.08" fill="#b6ff8f"/>
<rect x="679.4" y="421.5" width="15.06" height="15.08" fill="#5cffde"/>
<rect x="694.4" y="421.5" width="15.06" height="15.08" fill="#5cffde"/>
<rect x="709.4" y="421.5" width="15.06" height="15.08" fill="#5cffde"/>
<rect x="724.3" y="421.5" width="15.06" height="15.08" fill="#f0ff33"/>
<rect x="739.3" y="421.5" width="15.06" height="15.08" fill="#ffc400"/>
<rect x="754.3" y="421.5" width="15.06" height="15.08" fill="#ff0000"/>
<rect x="769.2" y="421.5" width="15.06" height="15.08" fill="#ff7700"/>
<rect x="784.2" y="421.5" width="15.06" height="15.08" fill="#ff7700"/>
<rect x="200.6" y="436.5" width="14.96" height="14.98" fill="url(#hp)"/>
<rect x="215.6" y="436.5" width="15.06" height="15.08" fill="#ff0000"/>
<rect x="230.6" y="436.5" width="15.06" height="15.08" fill="#ff0000"/>
<rect x="245.5" y="436.5" width="14.96" height="14.98" fill="url(#hp)"/>
<rect x="260.5" y="436.5" width="15.06" height="15.08" fill="#b6ff8f"/>
<rect x="275.4" y="436.5" width="15.06" height="15.08" fill="#b6ff8f"/>
<rect x="290.4" y="436.5" width="15.06" height="15.08" fill="#b6ff8f"/>
<rect x="305.4" y="436.5" width="15.06" height="15.08" fill="#33c2ff"/>
<rect x="320.3" y="436.5" width="15.06" height="15.08" fill="#5cffde"/>
<rect x="335.3" y="436.5" width="15.06" height="15.08" fill="#b6ff8f"/>
<rect x="350.3" y="436.5" width="14.96" height="14.98" fill="url(#hp)"/>
<rect x="365.2" y="436.5" width="15.06" height="15.08" fill="#ff7700"/>
<rect x="380.2" y="436.5" width="15.06" height="15.08" fill="#ff7700"/>
<rect x="395.1" y="436.5" width="15.06" height="15.08" fill="#b6ff8f"/>
<rect x="410.1" y="436.5" width="15.06" height="15.08" fill="#b6ff8f"/>
<rect x="425.1" y="436.5" width="15.06" height="15.08" fill="#5cffde"/>
<rect x="440.0" y="436.5" width="15.06" height="15.08" fill="#f0ff33"/>
<rect x="455.0" y="436.5" width="15.06" height="15.08" fill="#ff7700"/>
<rect x="470.0" y="436.5" width="15.06" height="15.08" fill="#ff0000"/>
<rect x="484.9" y="436.5" width="15.06" height="15.08" fill="#ff7700"/>
<rect x="499.9" y="436.5" width="15.06" height="15.08" fill="#f0ff33"/>
<rect x="514.9" y="436.5" width="15.06" height="15.08" fill="#b6ff8f"/>
<rect x="529.8" y="436.5" width="15.06" height="15.08" fill="#b6ff8f"/>
<rect x="544.8" y="436.5" width="15.06" height="15.08" fill="#b6ff8f"/>
<rect x="559.7" y="436.5" width="15.06" height="15.08" fill="#b6ff8f"/>
<rect x="574.7" y="436.5" width="15.06" height="15.08" fill="#b6ff8f"/>
<rect x="589.7" y="436.5" width="15.06" height="15.08" fill="#ff7700"/>
<rect x="604.6" y="436.5" width="15.06" height="15.08" fill="#ff7700"/>
<rect x="619.6" y="436.5" width="15.06" height="15.08" fill="#ffc400"/>
<rect x="634.6" y="436.5" width="15.06" height="15.08" fill="#f0ff33"/>
<rect x="649.5" y="436.5" width="15.06" height="15.08" fill="#f0ff33"/>
<rect x="664.5" y="436.5" width="15.06" height="15.08" fill="#5cffde"/>
<rect x="679.4" y="436.5" width="15.06" height="15.08" fill="#5cffde"/>
<rect x="694.4" y="436.5" width="15.06" height="15.08" fill="#33c2ff"/>
<rect x="709.4" y="436.5" width="15.06" height="15.08" fill="#5cffde"/>
<rect x="724.3" y="436.5" width="15.06" height="15.08" fill="#b6ff8f"/>
<rect x="739.3" y="436.5" width="15.06" height="15.08" fill="#b6ff8f"/>
<rect x="754.3" y="436.5" width="15.06" height="15.08" fill="#ffc400"/>
<rect x="769.2" y="436.5" width="15.06" height="15.08" fill="#ffc400"/>
<rect x="245.5" y="451.5" width="14.96" height="14.98" fill="url(#hp)"/>
<rect x="260.5" y="451.5" width="15.06" height="15.08" fill="#ff0000"/>
<rect x="275.4" y="451.5" width="15.06" height="15.08" fill="#ff7700"/>
<rect x="290.4" y="451.5" width="15.06" height="15.08" fill="#ff7700"/>
<rect x="305.4" y="451.5" width="15.06" height="15.08" fill="#ff7700"/>
<rect x="320.3" y="451.5" width="15.06" height="15.08" fill="#ffc400"/>
<rect x="335.3" y="451.5" width="15.06" height="15.08" fill="#ffc400"/>
<rect x="350.3" y="451.5" width="15.06" height="15.08" fill="#f0ff33"/>
<rect x="365.2" y="451.5" width="15.06" height="15.08" fill="#b6ff8f"/>
<rect x="380.2" y="451.5" width="15.06" height="15.08" fill="#b6ff8f"/>
<rect x="395.1" y="451.5" width="15.06" height="15.08" fill="#b6ff8f"/>
<rect x="410.1" y="451.5" width="15.06" height="15.08" fill="#b6ff8f"/>
<rect x="425.1" y="451.5" width="15.06" height="15.08" fill="#5cffde"/>
<rect x="440.0" y="451.5" width="15.06" height="15.08" fill="#b6ff8f"/>
<rect x="455.0" y="451.5" width="15.06" height="15.08" fill="#ffc400"/>
<rect x="470.0" y="451.5" width="15.06" height="15.08" fill="#b6ff8f"/>
<rect x="484.9" y="451.5" width="15.06" height="15.08" fill="#5cffde"/>
<rect x="499.9" y="451.5" width="15.06" height="15.08" fill="#f0ff33"/>
<rect x="514.9" y="451.5" width="15.06" height="15.08" fill="#b6ff8f"/>
<rect x="529.8" y="451.5" width="15.06" height="15.08" fill="#b6ff8f"/>
<rect x="544.8" y="451.5" width="15.06" height="15.08" fill="#5cffde"/>
<rect x="559.7" y="451.5" width="15.06" height="15.08" fill="#b6ff8f"/>
<rect x="574.7" y="451.5" width="15.06" height="15.08" fill="#b6ff8f"/>
<rect x="589.7" y="451.5" width="15.06" height="15.08" fill="#ffc400"/>
<rect x="604.6" y="451.5" width="15.06" height="15.08" fill="#ff7700"/>
<rect x="619.6" y="451.5" width="15.06" height="15.08" fill="#ffc400"/>
<rect x="634.6" y="451.5" width="15.06" height="15.08" fill="#f0ff33"/>
<rect x="649.5" y="451.5" width="15.06" height="15.08" fill="#f0ff33"/>
<rect x="664.5" y="451.5" width="15.06" height="15.08" fill="#b6ff8f"/>
<rect x="679.4" y="451.5" width="15.06" height="15.08" fill="#f0ff33"/>
<rect x="694.4" y="451.5" width="15.06" height="15.08" fill="#5cffde"/>
<rect x="709.4" y="451.5" width="15.06" height="15.08" fill="#b6ff8f"/>
<rect x="724.3" y="451.5" width="15.06" height="15.08" fill="#f0ff33"/>
<rect x="739.3" y="451.5" width="15.06" height="15.08" fill="#ffc400"/>
<rect x="754.3" y="451.5" width="15.06" height="15.08" fill="#b6ff8f"/>
<rect x="769.2" y="451.5" width="15.06" height="15.08" fill="#b6ff8f"/>
<rect x="335.3" y="466.5" width="15.06" height="15.08" fill="#ffc400"/>
<rect x="350.3" y="466.5" width="15.06" height="15.08" fill="#f0ff33"/>
<rect x="425.1" y="466.5" width="15.06" height="15.08" fill="#5cffde"/>
<rect x="440.0" y="466.5" width="15.06" height="15.08" fill="#b6ff8f"/>
<rect x="455.0" y="466.5" width="15.06" height="15.08" fill="#f0ff33"/>
<rect x="470.0" y="466.5" width="15.06" height="15.08" fill="#ff7700"/>
<rect x="484.9" y="466.5" width="15.06" height="15.08" fill="#ff7700"/>
<rect x="499.9" y="466.5" width="15.06" height="15.08" fill="#ffc400"/>
<rect x="514.9" y="466.5" width="15.06" height="15.08" fill="#ffc400"/>
<rect x="529.8" y="466.5" width="15.06" height="15.08" fill="#f0ff33"/>
<rect x="544.8" y="466.5" width="15.06" height="15.08" fill="#b6ff8f"/>
<rect x="559.7" y="466.5" width="15.06" height="15.08" fill="#b6ff8f"/>
<rect x="574.7" y="466.5" width="15.06" height="15.08" fill="#b6ff8f"/>
<rect x="589.7" y="466.5" width="15.06" height="15.08" fill="#f0ff33"/>
<rect x="604.6" y="466.5" width="15.06" height="15.08" fill="#ffc400"/>
<rect x="619.6" y="466.5" width="15.06" height="15.08" fill="#ffc400"/>
<rect x="634.6" y="466.5" width="15.06" height="15.08" fill="#ffc400"/>
<rect x="649.5" y="466.5" width="15.06" height="15.08" fill="#ffc400"/>
<rect x="664.5" y="466.5" width="15.06" height="15.08" fill="#f0ff33"/>
<rect x="679.4" y="466.5" width="15.06" height="15.08" fill="#5cffde"/>
<rect x="694.4" y="466.5" width="15.06" height="15.08" fill="#f0ff33"/>
<rect x="709.4" y="466.5" width="15.06" height="15.08" fill="#ff7700"/>
<rect x="724.3" y="466.5" width="15.06" height="15.08" fill="#ff7700"/>
<rect x="739.3" y="466.5" width="15.06" height="15.08" fill="#ffc400"/>
<rect x="754.3" y="466.5" width="15.06" height="15.08" fill="#b6ff8f"/>
<rect x="410.1" y="481.4" width="15.06" height="15.08" fill="#f0ff33"/>
<rect x="425.1" y="481.4" width="15.06" height="15.08" fill="#5cffde"/>
<rect x="440.0" y="481.4" width="15.06" height="15.08" fill="#5cffde"/>
<rect x="455.0" y="481.4" width="15.06" height="15.08" fill="#ffc400"/>
<rect x="470.0" y="481.4" width="15.06" height="15.08" fill="#ff0000"/>
<rect x="484.9" y="481.4" width="15.06" height="15.08" fill="#ff0000"/>
<rect x="499.9" y="481.4" width="15.06" height="15.08" fill="#ff7700"/>
<rect x="514.9" y="481.4" width="15.06" height="15.08" fill="#ff0000"/>
<rect x="529.8" y="481.4" width="15.06" height="15.08" fill="#ff7700"/>
<rect x="544.8" y="481.4" width="15.06" height="15.08" fill="#ffc400"/>
<rect x="559.7" y="481.4" width="15.06" height="15.08" fill="#b6ff8f"/>
<rect x="574.7" y="481.4" width="15.06" height="15.08" fill="#b6ff8f"/>
<rect x="589.7" y="481.4" width="15.06" height="15.08" fill="#f0ff33"/>
<rect x="604.6" y="481.4" width="15.06" height="15.08" fill="#ffc400"/>
<rect x="619.6" y="481.4" width="15.06" height="15.08" fill="#ffc400"/>
<rect x="634.6" y="481.4" width="15.06" height="15.08" fill="#f0ff33"/>
<rect x="649.5" y="481.4" width="15.06" height="15.08" fill="#f0ff33"/>
<rect x="664.5" y="481.4" width="15.06" height="15.08" fill="#b6ff8f"/>
<rect x="679.4" y="481.4" width="15.06" height="15.08" fill="#5cffde"/>
<rect x="694.4" y="481.4" width="15.06" height="15.08" fill="#ffc400"/>
<rect x="709.4" y="481.4" width="15.06" height="15.08" fill="#ff7700"/>
<rect x="724.3" y="481.4" width="15.06" height="15.08" fill="#ff7700"/>
<rect x="739.3" y="481.4" width="15.06" height="15.08" fill="#f0ff33"/>
<rect x="769.2" y="481.4" width="15.06" height="15.08" fill="#b6ff8f"/>
<rect x="410.1" y="496.4" width="15.06" height="15.08" fill="#f0ff33"/>
<rect x="425.1" y="496.4" width="15.06" height="15.08" fill="#5cffde"/>
<rect x="440.0" y="496.4" width="15.06" height="15.08" fill="#ff7700"/>
<rect x="455.0" y="496.4" width="15.06" height="15.08" fill="#ffc400"/>
<rect x="470.0" y="496.4" width="15.06" height="15.08" fill="#ffc400"/>
<rect x="484.9" y="496.4" width="15.06" height="15.08" fill="#f0ff33"/>
<rect x="499.9" y="496.4" width="15.06" height="15.08" fill="#f0ff33"/>
<rect x="514.9" y="496.4" width="15.06" height="15.08" fill="#ff7700"/>
<rect x="529.8" y="496.4" width="15.06" height="15.08" fill="#ff0000"/>
<rect x="544.8" y="496.4" width="15.06" height="15.08" fill="#f0ff33"/>
<rect x="559.7" y="496.4" width="15.06" height="15.08" fill="#b6ff8f"/>
<rect x="574.7" y="496.4" width="15.06" height="15.08" fill="#b6ff8f"/>
<rect x="589.7" y="496.4" width="15.06" height="15.08" fill="#b6ff8f"/>
<rect x="604.6" y="496.4" width="15.06" height="15.08" fill="#f0ff33"/>
<rect x="619.6" y="496.4" width="15.06" height="15.08" fill="#f0ff33"/>
<rect x="634.6" y="496.4" width="15.06" height="15.08" fill="#f0ff33"/>
<rect x="649.5" y="496.4" width="15.06" height="15.08" fill="#b6ff8f"/>
<rect x="664.5" y="496.4" width="15.06" height="15.08" fill="#5cffde"/>
<rect x="679.4" y="496.4" width="15.06" height="15.08" fill="#b6ff8f"/>
<rect x="694.4" y="496.4" width="15.06" height="15.08" fill="#ffc400"/>
<rect x="709.4" y="496.4" width="15.06" height="15.08" fill="#ffc400"/>
<rect x="724.3" y="496.4" width="15.06" height="15.08" fill="#ff7700"/>
<rect x="754.3" y="496.4" width="15.06" height="15.08" fill="#f0ff33"/>
<rect x="769.2" y="496.4" width="15.06" height="15.08" fill="#ff7700"/>
<rect x="410.1" y="511.4" width="15.06" height="15.08" fill="#f0ff33"/>
<rect x="425.1" y="511.4" width="15.06" height="15.08" fill="#ff7700"/>
<rect x="440.0" y="511.4" width="15.06" height="15.08" fill="#f0ff33"/>
<rect x="455.0" y="511.4" width="15.06" height="15.08" fill="#5cffde"/>
<rect x="470.0" y="511.4" width="15.06" height="15.08" fill="#33c2ff"/>
<rect x="484.9" y="511.4" width="15.06" height="15.08" fill="#5cffde"/>
<rect x="499.9" y="511.4" width="15.06" height="15.08" fill="#b6ff8f"/>
<rect x="514.9" y="511.4" width="15.06" height="15.08" fill="#ffc400"/>
<rect x="529.8" y="511.4" width="15.06" height="15.08" fill="#ff7700"/>
<rect x="544.8" y="511.4" width="15.06" height="15.08" fill="#f0ff33"/>
<rect x="559.7" y="511.4" width="15.06" height="15.08" fill="#b6ff8f"/>
<rect x="574.7" y="511.4" width="15.06" height="15.08" fill="#b6ff8f"/>
<rect x="589.7" y="511.4" width="15.06" height="15.08" fill="#b6ff8f"/>
<rect x="604.6" y="511.4" width="15.06" height="15.08" fill="#b6ff8f"/>
<rect x="619.6" y="511.4" width="15.06" height="15.08" fill="#5cffde"/>
<rect x="634.6" y="511.4" width="15.06" height="15.08" fill="#5cffde"/>
<rect x="649.5" y="511.4" width="15.06" height="15.08" fill="#5cffde"/>
<rect x="664.5" y="511.4" width="15.06" height="15.08" fill="#5cffde"/>
<rect x="679.4" y="511.4" width="15.06" height="15.08" fill="#b6ff8f"/>
<rect x="694.4" y="511.4" width="15.06" height="15.08" fill="#b6ff8f"/>
<rect x="709.4" y="511.4" width="15.06" height="15.08" fill="#f0ff33"/>
<rect x="754.3" y="511.4" width="15.06" height="15.08" fill="#b6ff8f"/>
<rect x="769.2" y="511.4" width="15.06" height="15.08" fill="#f0ff33"/>
<rect x="440.0" y="526.4" width="15.06" height="15.08" fill="#f0ff33"/>
<rect x="455.0" y="526.4" width="15.06" height="15.08" fill="#33c2ff"/>
<rect x="470.0" y="526.4" width="15.06" height="15.08" fill="#5cffde"/>
<rect x="484.9" y="526.4" width="15.06" height="15.08" fill="#f0ff33"/>
<rect x="499.9" y="526.4" width="15.06" height="15.08" fill="#b6ff8f"/>
<rect x="514.9" y="526.4" width="15.06" height="15.08" fill="#b6ff8f"/>
<rect x="529.8" y="526.4" width="15.06" height="15.08" fill="#b6ff8f"/>
<rect x="544.8" y="526.4" width="15.06" height="15.08" fill="#b6ff8f"/>
<rect x="559.7" y="526.4" width="15.06" height="15.08" fill="#b6ff8f"/>
<rect x="574.7" y="526.4" width="15.06" height="15.08" fill="#b6ff8f"/>
<rect x="589.7" y="526.4" width="15.06" height="15.08" fill="#f0ff33"/>
<rect x="604.6" y="526.4" width="15.06" height="15.08" fill="#5cffde"/>
<rect x="619.6" y="526.4" width="15.06" height="15.08" fill="#5cffde"/>
<rect x="634.6" y="526.4" width="15.06" height="15.08" fill="#5cffde"/>
<rect x="649.5" y="526.4" width="15.06" height="15.08" fill="#5cffde"/>
<rect x="664.5" y="526.4" width="15.06" height="15.08" fill="#5cffde"/>
<rect x="679.4" y="526.4" width="15.06" height="15.08" fill="#5cffde"/>
<rect x="694.4" y="526.4" width="15.06" height="15.08" fill="#5cffde"/>
<rect x="754.3" y="526.4" width="15.06" height="15.08" fill="#b6ff8f"/>
<rect x="769.2" y="526.4" width="15.06" height="15.08" fill="#b6ff8f"/>
<rect x="455.0" y="541.4" width="15.06" height="15.08" fill="#ffc400"/>
<rect x="470.0" y="541.4" width="15.06" height="15.08" fill="#ffc400"/>
<rect x="544.8" y="541.4" width="15.06" height="15.08" fill="#b6ff8f"/>
<rect x="559.7" y="541.4" width="15.06" height="15.08" fill="#f0ff33"/>
<rect x="574.7" y="541.4" width="15.06" height="15.08" fill="#b6ff8f"/>
<rect x="589.7" y="541.4" width="15.06" height="15.08" fill="#f0ff33"/>
<rect x="604.6" y="541.4" width="15.06" height="15.08" fill="#5cffde"/>
<rect x="619.6" y="541.4" width="15.06" height="15.08" fill="#5cffde"/>
<rect x="634.6" y="541.4" width="15.06" height="15.08" fill="#5cffde"/>
<rect x="649.5" y="541.4" width="15.06" height="15.08" fill="#5cffde"/>
<rect x="664.5" y="541.4" width="15.06" height="15.08" fill="#5cffde"/>
<rect x="679.4" y="541.4" width="15.06" height="15.08" fill="#5cffde"/>
<rect x="754.3" y="541.4" width="15.06" height="15.08" fill="#b6ff8f"/>
<rect x="589.7" y="556.3" width="15.06" height="15.08" fill="#5cffde"/>
<rect x="604.6" y="556.3" width="15.06" height="15.08" fill="#f0ff33"/>
<rect x="574.7" y="571.3" width="15.06" height="15.08" fill="#ff7700"/>
<rect x="589.7" y="571.3" width="15.06" height="15.08" fill="#f0ff33"/>
<rect x="604.6" y="571.3" width="15.06" height="15.08" fill="#f0ff33"/>
<rect x="574.7" y="586.3" width="15.06" height="15.08" fill="#f0ff33"/>
<rect x="589.7" y="586.3" width="15.06" height="15.08" fill="#ffc400"/>
<rect x="604.6" y="586.3" width="15.06" height="15.08" fill="#f0ff33"/>
<path d="M51.5,60V610M65.5,60V610M80.5,60V610M95.5,60V610M110.5,60V610M125.5,60V610M140.5,60V610M155.5,60V610M170.5,60V610M185.5,60V610M200.5,60V610M215.5,60V610M230.5,60V610M245.5,60V610M260.5,60V610M275.5,60V610M290.5,60V610M305.5,60V610M320.5,60V610M335.5,60V610M350.5,60V610M365.5,60V610M380.5,60V610M395.5,60V610M410.5,60V610M425.5,60V610M440.5,60V610M455.5,60V610M469.5,60V610M484.5,60V610M499.5,60V610M514.5,60V610M529.5,60V610M544.5,60V610M559.5,60V610M574.5,60V610M589.5,60V610M604.5,60V610M619.5,60V610M634.5,60V610M649.5,60V610M664.5,60V610M679.5,60V610M694.5,60V610M709.5,60V610M724.5,60V610M739.5,60V610M754.5,60V610M769.5,60V610M784.5,60V610M799.5,60V610M814.5,60V610M829.5,60V610M844.5,60V610M859.5,60V610M873.5,60V610M888.5,60V610M903.5,60V610M918.5,60V610M933.5,60V610M948.5,60V610M963.5,60V610M978.5,60V610M993.5,60V610M45,62.5H1000M45,76.5H1000M45,91.5H1000M45,106.5H1000M45,121.5H1000M45,136.5H1000M45,151.5H1000M45,166.5H1000M45,181.5H1000M45,196.5H1000M45,211.5H1000M45,226.5H1000M45,241.5H1000M45,256.5H1000M45,271.5H1000M45,286.5H1000M45,301.5H1000M45,316.5H1000M45,331.5H1000M45,346.5H1000M45,361.5H1000M45,376.5H1000M45,391.5H1000M45,406.5H1000M45,421.5H1000M45,436.5H1000M45,451.5H1000M45,466.5H1000M45,481.5H1000M45,496.5H1000M45,511.5H1000M45,526.5H1000M45,541.5H1000M45,556.5H1000M45,571.5H1000M45,586.5H1000M45,601.5H1000M45,616.5H1000" stroke="#323232" stroke-opacity="0.43" stroke-width="1" fill="none"/>
</g>
<path d="M59.0,282.5 L64.0,277.5 L65.0,272.5 L75.9,267.5 L79.9,263.9 L81.9,267.5 L89.9,262.5 L92.9,266.5 L99.9,265.5 L104.8,261.6 L109.8,256.6 L115.8,257.6 L120.8,255.6 L126.8,252.0 L139.7,247.6 L153.7,243.6 L158.7,239.6 L157.7,233.6 L161.7,227.7 L165.7,224.7 L164.7,217.7 L161.7,213.7 L163.7,207.7 L158.7,202.8 L153.7,198.2 L161.7,195.8 L171.7,194.8 L181.6,191.8 L189.6,192.8 L193.6,193.8 L194.6,189.8 L189.6,187.8 L193.6,179.8 L197.6,169.9 L200.6,163.9 L207.6,165.9 L217.5,167.9 L229.5,166.9 L238.5,162.9 L239.5,155.9 L238.5,149.9 L243.5,145.9 L251.4,144.0 L257.4,138.0 L260.0,135.0 L260.0,134.7 L273.0,134.4 L275.0,140.7 L277.9,143.7 L283.9,147.7 L289.9,150.7 L299.9,152.7 L306.9,153.7 L311.9,157.7 L314.8,164.6 L319.8,168.6 L320.8,174.6 L318.8,180.6 L319.8,183.6 L316.8,187.6 L317.8,192.6 L323.8,194.5 L335.8,195.5 L349.7,196.1 L359.7,197.5 L368.7,201.5 L379.7,207.5 L385.6,207.5 L387.6,210.5 L392.6,220.5 L397.6,226.4 L402.6,229.4 L411.6,230.4 L419.6,230.4 L425.5,232.0 L439.5,232.4 L451.5,231.4 L461.4,230.8 L470.0,231.4 L470.0,232.6 L482.0,234.6 L486.0,239.2 L495.9,240.0 L505.9,243.6 L522.9,244.0 L524.8,246.6 L529.8,247.2 L537.8,243.6 L549.8,239.6 L563.7,235.6 L577.7,235.2 L589.7,235.2 L599.6,233.6 L609.6,230.6 L617.6,224.7 L621.6,221.3 L633.5,216.7 L635.5,211.7 L629.6,210.7 L626.6,205.7 L628.6,199.7 L633.5,195.8 L641.5,195.8 L649.5,199.7 L659.5,199.7 L667.4,194.8 L673.4,190.8 L680.0,190.2 L680.0,190.6 L690.0,188.6 L696.0,183.6 L699.9,179.6 L709.9,176.2 L715.9,173.6 L725.9,171.6 L737.8,170.2 L747.8,171.6 L752.8,169.6 L750.8,164.6 L745.8,159.7 L737.8,154.7 L727.9,153.1 L719.9,153.7 L715.9,156.3 L709.9,153.1 L701.9,153.7 L694.0,156.3 L691.0,153.7 L688.0,150.7 L693.0,144.7 L696.0,137.7 L699.9,130.8 L705.9,124.4 L711.9,127.8 L721.9,126.8 L731.9,122.8 L741.8,118.8 L743.8,112.8 L748.8,107.8 L753.8,103.9 L757.8,96.9 L763.8,92.9 L767.8,88.9 L765.8,81.9 L759.8,83.9 L755.4,80.9 L761.8,76.9 L767.8,73.0 L783.7,70.6 L799.7,68.6 L809.6,68.6 L819.6,72.0 L831.6,74.0 L841.5,77.9 L843.0,79.9 L847.0,81.9 L852.0,88.9 L858.0,100.9 L862.9,108.8 L867.9,117.8 L868.9,124.8 L876.9,127.8 L886.9,128.8 L897.8,130.8 L904.8,136.7 L912.8,137.7 L916.8,143.7 L915.8,150.7 L919.8,156.3 L930.8,156.3 L940.7,154.7 L948.7,150.7 L958.7,147.7 L970.6,145.7 L980.6,144.7 L980.6,147.1 L974.6,149.7 L975.6,155.7 L970.6,160.7 L965.7,162.7 L963.7,171.6 L958.7,182.6 L953.7,190.6 L949.7,196.5 L942.7,194.5 L932.7,193.5 L922.8,197.5 L919.8,200.5 L922.8,208.5 L923.8,218.5 L921.8,226.4 L917.8,228.4 L912.8,234.4 L909.8,230.4 L902.8,232.4 L900.8,237.0 L900.8,236.9 L894.9,238.9 L889.9,241.8 L882.9,242.8 L877.9,244.8 L878.9,248.8 L872.9,250.8 L862.9,248.8 L858.0,245.8 L853.0,249.8 L849.0,254.8 L843.0,257.8 L839.6,259.9 L829.6,264.9 L819.6,271.8 L811.6,274.8 L801.7,277.8 L797.7,279.8 L799.7,284.8 L793.7,282.8 L787.7,283.8 L779.7,287.8 L771.7,289.8 L773.7,285.8 L775.7,279.8 L779.7,272.8 L785.7,267.9 L787.7,263.9 L781.7,259.9 L771.7,260.9 L765.8,264.9 L759.8,268.9 L751.8,274.8 L743.8,279.8 L737.8,284.8 L731.9,286.8 L723.9,285.8 L719.9,289.8 L719.9,294.8 L725.9,298.8 L735.8,300.7 L741.8,302.7 L739.8,309.7 L743.8,313.7 L749.8,314.7 L755.8,309.7 L763.8,304.7 L767.8,299.7 L766.8,304.7 L773.7,306.7 L783.7,309.7 L791.7,309.7 L794.7,312.7 L791.7,318.7 L785.7,317.7 L777.7,319.7 L767.8,323.7 L761.8,329.6 L755.8,331.6 L753.8,337.6 L747.8,341.6 L742.8,346.6 L747.8,351.6 L757.8,355.6 L761.8,361.5 L763.8,369.5 L769.7,379.5 L775.7,385.5 L779.7,391.4 L783.7,391.0 L784.7,399.0 L782.7,405.9 L775.7,409.9 L773.7,414.9 L777.7,417.9 L783.7,416.9 L787.7,414.9 L790.1,416.5 L789.3,420.9 L788.7,423.9 L783.7,429.9 L781.7,435.8 L779.7,442.8 L775.7,448.8 L769.7,452.8 L765.8,457.8 L759.8,464.7 L753.8,470.7 L750.8,478.7 L751.8,486.7 L743.8,491.7 L737.8,498.6 L727.9,505.6 L721.9,512.6 L713.9,516.6 L705.9,522.6 L699.9,527.5 L690.0,530.5 L680.0,529.5 L680.0,529.7 L675.4,530.7 L667.4,534.7 L661.5,532.7 L659.5,537.7 L649.5,541.7 L639.5,544.7 L627.6,548.7 L617.6,551.7 L609.6,556.6 L612.6,558.6 L613.6,564.6 L609.6,567.6 L602.6,566.6 L599.6,554.6 L602.6,550.7 L597.6,546.7 L589.7,547.7 L581.7,546.7 L571.7,547.7 L563.7,545.7 L555.8,541.7 L552.8,535.7 L555.8,532.7 L553.8,529.7 L545.8,527.7 L539.8,524.7 L533.8,521.8 L525.8,526.7 L517.9,528.7 L509.9,529.7 L503.9,531.7 L497.9,532.7 L491.9,530.7 L486.0,532.7 L479.0,537.7 L482.0,542.7 L483.0,552.7 L478.0,553.7 L472.0,550.7 L470.0,545.7 L470.0,545.5 L461.4,549.5 L457.4,548.5 L454.5,541.5 L443.5,539.5 L447.5,526.5 L441.5,523.5 L440.5,518.6 L436.5,511.6 L429.5,510.6 L419.6,512.6 L421.5,508.6 L419.6,502.6 L420.6,494.6 L425.5,490.7 L431.5,486.7 L435.5,478.7 L436.5,470.7 L435.5,459.8 L429.5,454.8 L425.5,449.8 L419.6,443.8 L416.6,450.8 L412.6,455.8 L407.6,452.8 L399.6,448.8 L389.6,448.8 L379.7,453.8 L367.7,459.8 L361.7,466.7 L347.8,467.7 L336.8,467.7 L335.8,459.8 L329.8,454.8 L323.8,451.8 L317.8,452.8 L311.9,449.8 L301.9,448.8 L293.9,453.8 L290.9,461.8 L287.9,458.8 L285.9,450.8 L272.0,452.8 L260.0,453.2 L260.0,450.8 L251.4,450.8 L246.4,452.8 L243.5,448.8 L233.5,446.8 L229.5,441.8 L221.5,437.8 L215.5,431.9 L209.6,433.9 L205.6,429.9 L197.6,425.9 L189.6,420.9 L185.6,415.9 L176.6,416.9 L174.7,420.9 L171.7,417.9 L165.7,414.9 L157.7,411.9 L151.7,407.9 L141.7,405.9 L137.8,401.0 L135.8,397.4 L137.8,392.4 L133.8,390.4 L131.8,385.5 L135.8,381.5 L138.8,383.5 L143.7,380.5 L142.7,374.5 L137.8,369.5 L135.8,361.5 L139.7,358.5 L137.8,355.6 L131.8,352.6 L126.8,347.6 L124.8,339.6 L115.8,338.6 L109.8,336.6 L107.8,333.6 L98.9,332.6 L95.9,329.6 L94.9,321.7 L86.9,317.7 L79.9,316.7 L73.9,315.7 L73.9,313.7 L79.9,312.7 L80.9,309.7 L79.9,299.7 L79.9,293.8 L73.9,289.8 L65.0,292.8 L63.0,289.8 L66.0,285.8 L60.0,284.8 L59.0,281.8Z M584.7,582.6 L589.7,575.6 L599.6,571.6 L609.6,570.2 L618.6,571.6 L619.6,575.6 L615.6,582.6 L610.6,590.5 L603.6,596.5 L595.6,598.5 L587.7,594.5 L584.7,588.5Z M777.7,492.3 L783.7,494.2 L784.7,498.6 L781.7,506.6 L778.7,516.6 L774.7,526.5 L769.7,535.5 L767.8,544.5 L765.8,542.5 L762.8,535.5 L758.8,529.5 L755.4,524.5 L756.8,516.6 L760.8,510.6 L765.8,502.6 L771.7,495.6Z" fill="none" stroke="#555" stroke-width="1.15" stroke-linejoin="round"/>
<path d="M783.7,391.0 L784.7,399.0 L782.7,405.9 L775.7,409.9 L773.7,414.9 L777.7,417.9 L783.7,416.9 L787.7,414.9 L790.1,416.5 L789.3,420.9 L788.7,423.9 L783.7,429.9 L781.7,435.8 L779.7,442.8 L775.7,448.8 L769.7,452.8 L765.8,457.8 L759.8,464.7 L753.8,470.7 L750.8,478.7 L751.8,486.7 L743.8,491.7 L737.8,498.6 L727.9,505.6 L721.9,512.6 L713.9,516.6 L705.9,522.6 L699.9,527.5 L690.0,530.5 L680.0,529.5 L680.0,529.7 L675.4,530.7 L667.4,534.7 L661.5,532.7 L659.5,537.7 L649.5,541.7 L639.5,544.7 L627.6,548.7 L617.6,551.7 L609.6,556.6 L612.6,558.6 L613.6,564.6 L609.6,567.6 L602.6,566.6" fill="none" stroke="#6a6a6a" stroke-width="3.3" stroke-dasharray="1.2 2.2 2.6 1.8 0.8 2.6" stroke-linejoin="round"/>
<path d="M789.3,413.3 L792.7,410.5 L796.7,409.3 L797.7,410.9 L794.7,413.3 L793.7,416.5 L791.3,417.9 L789.7,415.9Z" fill="none" stroke="#666" stroke-width="1.6" stroke-dasharray="2 1.5"/>
<g clip-path="url(#cn)" stroke-opacity="0.55" stroke="#bcbcbc" stroke-width="1.1" stroke-dasharray="9.2 25" fill="none"><line x1="162.6" y1="845.1" x2="162.6" y2="35.5"/><line x1="312.4" y1="845.1" x2="312.4" y2="35.5"/><line x1="462.1" y1="845.1" x2="462.1" y2="35.5"/><line x1="611.9" y1="845.1" x2="611.9" y2="35.5"/><line x1="761.6" y1="845.1" x2="761.6" y2="35.5"/><line x1="911.4" y1="845.1" x2="911.4" y2="35.5"/><line x1="38.6" y1="735.2" x2="1011.9" y2="735.2"/><line x1="38.6" y1="585.2" x2="1011.9" y2="585.2"/><line x1="38.6" y1="435.2" x2="1011.9" y2="435.2"/><line x1="38.6" y1="285.2" x2="1011.9" y2="285.2"/><line x1="38.6" y1="135.2" x2="1011.9" y2="135.2"/></g>
<path d="M754.8,585.8 L746.6,601.3 M740.4,630.6 L740.4,646.9 M739.3,690.9 L733.1,707.5 M698.5,751.5 L687.7,763.7 M609.4,687.7 L606.2,701.8 M594.0,627.9 L598.0,634.7 L602.9,643.7 M578.5,765.1 L577.9,773.3 L579.0,780.0 M642.9,781.4 L642.3,786.8 L644.8,790.9 M796.7,502.6 L792.3,519.6 M783.3,545.5 L772.1,558.8 M525.8,443.5 L531.8,443.5" stroke="#1a1a1a" stroke-width="1.1" fill="none" stroke-linecap="round"/>
<ellipse cx="669.2" cy="633.3" rx="9.2" ry="4.6" transform="rotate(-18 669.2 633.3)" fill="none" stroke="#1a1a1a" stroke-width="1"/>
<g fill="#2a2a2a"><circle cx="627.4" cy="614.3" r="0.9"/><circle cx="638.8" cy="617.6" r="0.9"/><circle cx="644.8" cy="621.9" r="0.9"/><circle cx="641.5" cy="630.1" r="0.9"/><circle cx="623.0" cy="633.3" r="0.9"/><circle cx="705.9" cy="626.0" r="0.9"/><circle cx="721.6" cy="644.2" r="0.9"/><circle cx="670.0" cy="699.9" r="0.9"/><circle cx="668.7" cy="704.0" r="0.9"/><circle cx="678.2" cy="705.3" r="0.9"/><circle cx="671.4" cy="709.4" r="0.9"/><circle cx="667.3" cy="712.1" r="0.9"/><circle cx="672.7" cy="716.2" r="0.9"/><circle cx="659.2" cy="717.6" r="0.9"/><circle cx="663.2" cy="720.3" r="0.9"/><circle cx="674.1" cy="722.5" r="0.9"/><circle cx="648.3" cy="726.3" r="0.9"/><circle cx="685.0" cy="716.2" r="0.9"/><circle cx="687.7" cy="723.0" r="0.9"/><circle cx="691.8" cy="710.8" r="0.9"/><circle cx="693.1" cy="725.7" r="0.9"/><circle cx="697.2" cy="712.1" r="0.9"/><circle cx="701.3" cy="716.2" r="0.9"/><circle cx="686.3" cy="729.8" r="0.9"/><circle cx="693.1" cy="731.1" r="0.9"/><circle cx="701.3" cy="723.0" r="0.9"/><circle cx="708.1" cy="704.0" r="0.9"/><circle cx="706.7" cy="709.4" r="0.9"/><circle cx="721.6" cy="708.9" r="0.9"/><circle cx="714.8" cy="718.9" r="0.9"/><circle cx="708.1" cy="728.4" r="0.9"/><circle cx="702.6" cy="733.9" r="0.9"/><circle cx="698.5" cy="736.6" r="0.9"/><circle cx="630.1" cy="740.7" r="0.9"/><circle cx="633.3" cy="739.3" r="0.9"/><circle cx="638.8" cy="737.1" r="0.9"/><circle cx="644.2" cy="737.9" r="0.9"/><circle cx="647.5" cy="736.0" r="0.9"/><circle cx="659.2" cy="735.2" r="0.9"/><circle cx="664.6" cy="737.9" r="0.9"/><circle cx="668.7" cy="739.8" r="0.9"/><circle cx="675.5" cy="737.9" r="0.9"/><circle cx="683.6" cy="744.7" r="0.9"/><circle cx="676.8" cy="747.4" r="0.9"/><circle cx="672.7" cy="748.8" r="0.9"/><circle cx="663.2" cy="750.2" r="0.9"/><circle cx="655.1" cy="747.4" r="0.9"/><circle cx="648.3" cy="751.5" r="0.9"/><circle cx="661.9" cy="757.0" r="0.9"/><circle cx="660.5" cy="761.0" r="0.9"/><circle cx="658.3" cy="766.5" r="0.9"/><circle cx="653.7" cy="776.0" r="0.9"/><circle cx="630.1" cy="752.9" r="0.9"/><circle cx="627.9" cy="757.0" r="0.9"/><circle cx="607.5" cy="746.1" r="0.9"/><circle cx="604.8" cy="751.5" r="0.9"/><circle cx="598.0" cy="758.9" r="0.9"/><circle cx="630.1" cy="624.7" r="1.5"/><circle cx="632.0" cy="627.9" r="1.5"/><circle cx="670.0" cy="723.0" r="1.5"/><circle cx="713.5" cy="709.4" r="1.5"/><circle cx="611.6" cy="748.8" r="1.5"/><circle cx="613.0" cy="752.9" r="1.5"/><circle cx="600.7" cy="757.8" r="1.5"/><circle cx="706.9" cy="560.8" r="1.9"/><circle cx="747.8" cy="517.0" r="1.6"/><circle cx="748.8" cy="520.6" r="1.5"/><circle cx="745.8" cy="521.6" r="0.9"/><circle cx="809.2" cy="483.7" r="0.9"/><circle cx="807.6" cy="485.1" r="0.7"/><circle cx="784.7" cy="488.3" r="0.9"/><circle cx="777.1" cy="531.5" r="0.9"/><circle cx="777.7" cy="540.5" r="1.1"/><circle cx="788.7" cy="438.8" r="0.7"/><circle cx="783.7" cy="443.8" r="0.7"/><circle cx="770.7" cy="458.8" r="0.7"/><circle cx="761.8" cy="475.7" r="0.7"/></g>
<rect x="38.6" y="35.5" width="973.2" height="809.6" fill="none" stroke="#000" stroke-width="2.2"/>
<text x="162.6" y="27.6" font-size="25.3" text-anchor="middle">80°E</text>
<text x="162.6" y="875.6" font-size="25.3" text-anchor="middle">80°E</text>
<text x="312.4" y="27.6" font-size="25.3" text-anchor="middle">90°E</text>
<text x="312.4" y="875.6" font-size="25.3" text-anchor="middle">90°E</text>
<text x="462.1" y="27.6" font-size="25.3" text-anchor="middle">100°E</text>
<text x="462.1" y="875.6" font-size="25.3" text-anchor="middle">100°E</text>
<text x="611.9" y="27.6" font-size="25.3" text-anchor="middle">110°E</text>
<text x="611.9" y="875.6" font-size="25.3" text-anchor="middle">110°E</text>
<text x="761.6" y="27.6" font-size="25.3" text-anchor="middle">120°E</text>
<text x="761.6" y="875.6" font-size="25.3" text-anchor="middle">120°E</text>
<text x="911.4" y="27.6" font-size="25.3" text-anchor="middle">130°E</text>
<text x="911.4" y="875.6" font-size="25.3" text-anchor="middle">130°E</text>
<text transform="translate(31.0,735.3) rotate(-90)" font-size="25.3" letter-spacing="0.6" text-anchor="middle">10°N</text>
<text transform="translate(1043.8,735.3) rotate(-90)" font-size="25.3" letter-spacing="0.6" text-anchor="middle">10°N</text>
<text transform="translate(31.0,585.3) rotate(-90)" font-size="25.3" letter-spacing="0.6" text-anchor="middle">20°N</text>
<text transform="translate(1043.8,585.3) rotate(-90)" font-size="25.3" letter-spacing="0.6" text-anchor="middle">20°N</text>
<text transform="translate(31.0,435.3) rotate(-90)" font-size="25.3" letter-spacing="0.6" text-anchor="middle">30°N</text>
<text transform="translate(1043.8,435.3) rotate(-90)" font-size="25.3" letter-spacing="0.6" text-anchor="middle">30°N</text>
<text transform="translate(31.0,285.3) rotate(-90)" font-size="25.3" letter-spacing="0.6" text-anchor="middle">40°N</text>
<text transform="translate(1043.8,285.3) rotate(-90)" font-size="25.3" letter-spacing="0.6" text-anchor="middle">40°N</text>
<text transform="translate(31.0,135.3) rotate(-90)" font-size="25.3" letter-spacing="0.6" text-anchor="middle">50°N</text>
<text transform="translate(1043.8,135.3) rotate(-90)" font-size="25.3" letter-spacing="0.6" text-anchor="middle">50°N</text>
<text x="55.2" y="543.5" font-size="31">SKEW</text>
<rect x="54.1" y="561.1" width="67.2" height="33.2" fill="#0000ff" stroke="#9c9c9c" stroke-width="0.8"/>
<text x="133.6" y="587.6" font-size="26.00" letter-spacing="0.32" word-spacing="1.9">−1.64 − −1.14</text>
<rect x="54.1" y="607.1" width="67.2" height="33.2" fill="#3366ff" stroke="#9c9c9c" stroke-width="0.8"/>
<text x="133.6" y="633.6" font-size="26.00" letter-spacing="0.32" word-spacing="1.9">−1.13 − −0.84</text>
<rect x="54.1" y="653.1" width="67.2" height="33.2" fill="#33c2ff" stroke="#9c9c9c" stroke-width="0.8"/>
<text x="133.6" y="679.6" font-size="26.00" letter-spacing="0.32" word-spacing="1.9">−0.83 − −0.57</text>
<rect x="54.1" y="699.1" width="67.2" height="33.2" fill="#5cffde" stroke="#9c9c9c" stroke-width="0.8"/>
<text x="133.6" y="725.6" font-size="26.00" letter-spacing="0.32" word-spacing="1.9">−0.56 − −0.37</text>
<rect x="54.1" y="745.1" width="67.2" height="33.2" fill="#b6ff8f" stroke="#9c9c9c" stroke-width="0.8"/>
<text x="133.6" y="771.6" font-size="26.00" letter-spacing="0.32" word-spacing="1.9">−0.36 − −0.21</text>
<rect x="302.8" y="561.1" width="67.8" height="33.2" fill="#f0ff33" stroke="#9c9c9c" stroke-width="0.8"/>
<text x="381.9" y="587.6" font-size="26.00" letter-spacing="0.32" word-spacing="1.9">−0.20 − −0.04</text>
<rect x="302.8" y="607.1" width="67.8" height="33.2" fill="#ffc400" stroke="#9c9c9c" stroke-width="0.8"/>
<text x="381.9" y="633.6" font-size="26.00" letter-spacing="0.32" word-spacing="1.9">−0.03 − 0.15</text>
<rect x="302.8" y="653.1" width="67.8" height="33.2" fill="#ff7700" stroke="#9c9c9c" stroke-width="0.8"/>
<text x="381.9" y="679.6" font-size="26.00" letter-spacing="0.32" word-spacing="1.9">0.16 − 0.38</text>
<rect x="302.8" y="699.1" width="67.8" height="33.2" fill="#ff0000" stroke="#9c9c9c" stroke-width="0.8"/>
<text x="381.9" y="725.6" font-size="26.00" letter-spacing="0.32" word-spacing="1.9">0.39 − 1.10</text>
<rect x="47.5" y="793" width="46" height="22.3" fill="#fff" stroke="#4d4d4d" stroke-width="1.1"/>
<text x="100.6" y="814.2" font-size="27">National boundaries</text>
<rect x="343.2" y="792.3" width="45.4" height="22" fill="#fff"/><rect x="343.2" y="792.3" width="45.4" height="22" fill="url(#hp)" stroke="#4d4d4d" stroke-width="1.1"/>
<text x="397" y="812.8" font-size="27">Background area</text>
<rect x="706.6" y="816.2" width="102.7" height="10.4" fill="#000"/>
<rect x="809.3" y="816.7" width="100.8" height="9.6" fill="#fff" stroke="#000" stroke-width="1"/>
<text x="707.8" y="805.4" font-size="24" text-anchor="middle">0</text>
<text x="808.8" y="805.4" font-size="24" text-anchor="middle">750</text>
<text x="886" y="805.4" font-size="24">1500 km</text>
 <text x="980.7" y="60.7" text-anchor="middle" style="font-family:'Liberation Sans',Arial,sans-serif;font-size:17px">N</text>
<path d="M980.5,64.3 L968.6,102.5 L980.5,89.4 Z" fill="#000" stroke="#000" stroke-width="0.8" stroke-linejoin="miter"/>
<path d="M980.5,64.3 L991.8,102.5 L980.5,89.4 Z" fill="#fff" stroke="#000" stroke-width="1.1" stroke-linejoin="miter"/>
</svg></body></html>
